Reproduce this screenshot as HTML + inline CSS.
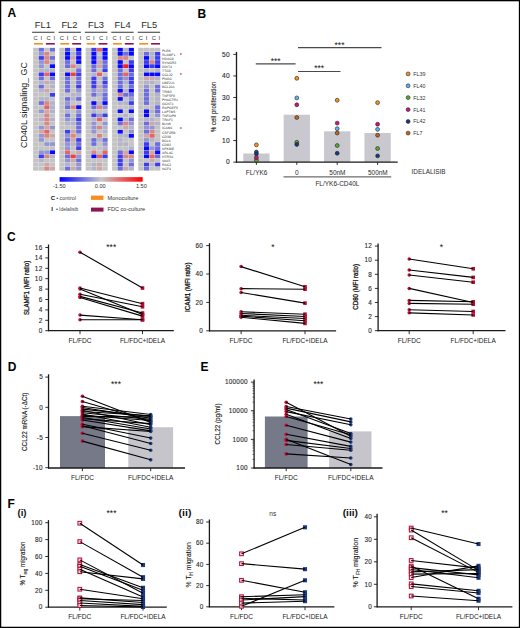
<!DOCTYPE html>
<html><head><meta charset="utf-8"><style>
html,body{margin:0;padding:0;background:#fff;}
body{width:520px;height:628px;overflow:hidden;}
svg{display:block;}
text{font-family:"Liberation Sans",sans-serif;}
.t{stroke:currentColor;}
</style></head><body>
<svg width="520" height="628" viewBox="0 0 520 628">
<rect x="0" y="0" width="520" height="628" fill="#fff"/>
<text x="7.40" y="17.30" font-size="12.0" text-anchor="start" fill="#000" font-weight="bold">A</text>
<rect x="33.00" y="47.70" width="22.20" height="123.00" fill="#e8e8e8"/>
<rect x="33.20" y="47.90" width="5.15" height="3.70" fill="#c4c4c4"/>
<rect x="38.75" y="47.90" width="5.15" height="3.70" fill="#6d6ddf"/>
<rect x="44.30" y="47.90" width="5.15" height="3.70" fill="#c4c4c4"/>
<rect x="49.85" y="47.90" width="5.15" height="3.70" fill="#6d6ddf"/>
<rect x="33.20" y="52.00" width="5.15" height="3.70" fill="#c4c4c4"/>
<rect x="38.75" y="52.00" width="5.15" height="3.70" fill="#9494d3"/>
<rect x="44.30" y="52.00" width="5.15" height="3.70" fill="#d88787"/>
<rect x="49.85" y="52.00" width="5.15" height="3.70" fill="#c4c4c4"/>
<rect x="33.20" y="56.10" width="5.15" height="3.70" fill="#c4c4c4"/>
<rect x="38.75" y="56.10" width="5.15" height="3.70" fill="#3d3dee"/>
<rect x="44.30" y="56.10" width="5.15" height="3.70" fill="#d88787"/>
<rect x="49.85" y="56.10" width="5.15" height="3.70" fill="#6d6ddf"/>
<rect x="33.20" y="60.20" width="5.15" height="3.70" fill="#c4c4c4"/>
<rect x="38.75" y="60.20" width="5.15" height="3.70" fill="#9494d3"/>
<rect x="44.30" y="60.20" width="5.15" height="3.70" fill="#d88787"/>
<rect x="49.85" y="60.20" width="5.15" height="3.70" fill="#b3b3c9"/>
<rect x="33.20" y="64.30" width="5.15" height="3.70" fill="#c4c4c4"/>
<rect x="38.75" y="64.30" width="5.15" height="3.70" fill="#9494d3"/>
<rect x="44.30" y="64.30" width="5.15" height="3.70" fill="#c4c4c4"/>
<rect x="49.85" y="64.30" width="5.15" height="3.70" fill="#0808ff"/>
<rect x="33.20" y="68.40" width="5.15" height="3.70" fill="#c4c4c4"/>
<rect x="38.75" y="68.40" width="5.15" height="3.70" fill="#b3b3c9"/>
<rect x="44.30" y="68.40" width="5.15" height="3.70" fill="#b3b3c9"/>
<rect x="49.85" y="68.40" width="5.15" height="3.70" fill="#b3b3c9"/>
<rect x="33.20" y="72.50" width="5.15" height="3.70" fill="#c4c4c4"/>
<rect x="38.75" y="72.50" width="5.15" height="3.70" fill="#3d3dee"/>
<rect x="44.30" y="72.50" width="5.15" height="3.70" fill="#e36565"/>
<rect x="49.85" y="72.50" width="5.15" height="3.70" fill="#0808ff"/>
<rect x="33.20" y="76.60" width="5.15" height="3.70" fill="#c4c4c4"/>
<rect x="38.75" y="76.60" width="5.15" height="3.70" fill="#6d6ddf"/>
<rect x="44.30" y="76.60" width="5.15" height="3.70" fill="#c4c4c4"/>
<rect x="49.85" y="76.60" width="5.15" height="3.70" fill="#6d6ddf"/>
<rect x="33.20" y="80.70" width="5.15" height="3.70" fill="#c4c4c4"/>
<rect x="38.75" y="80.70" width="5.15" height="3.70" fill="#b3b3c9"/>
<rect x="44.30" y="80.70" width="5.15" height="3.70" fill="#cda8a8"/>
<rect x="49.85" y="80.70" width="5.15" height="3.70" fill="#b3b3c9"/>
<rect x="33.20" y="84.80" width="5.15" height="3.70" fill="#c4c4c4"/>
<rect x="38.75" y="84.80" width="5.15" height="3.70" fill="#6d6ddf"/>
<rect x="44.30" y="84.80" width="5.15" height="3.70" fill="#c4c4c4"/>
<rect x="49.85" y="84.80" width="5.15" height="3.70" fill="#b3b3c9"/>
<rect x="33.20" y="88.90" width="5.15" height="3.70" fill="#c4c4c4"/>
<rect x="38.75" y="88.90" width="5.15" height="3.70" fill="#b3b3c9"/>
<rect x="44.30" y="88.90" width="5.15" height="3.70" fill="#cda8a8"/>
<rect x="49.85" y="88.90" width="5.15" height="3.70" fill="#c4c4c4"/>
<rect x="33.20" y="93.00" width="5.15" height="3.70" fill="#c4c4c4"/>
<rect x="38.75" y="93.00" width="5.15" height="3.70" fill="#c4c4c4"/>
<rect x="44.30" y="93.00" width="5.15" height="3.70" fill="#c4c4c4"/>
<rect x="49.85" y="93.00" width="5.15" height="3.70" fill="#3d3dee"/>
<rect x="33.20" y="97.10" width="5.15" height="3.70" fill="#c4c4c4"/>
<rect x="38.75" y="97.10" width="5.15" height="3.70" fill="#b3b3c9"/>
<rect x="44.30" y="97.10" width="5.15" height="3.70" fill="#b3b3c9"/>
<rect x="49.85" y="97.10" width="5.15" height="3.70" fill="#c4c4c4"/>
<rect x="33.20" y="101.20" width="5.15" height="3.70" fill="#c4c4c4"/>
<rect x="38.75" y="101.20" width="5.15" height="3.70" fill="#6d6ddf"/>
<rect x="44.30" y="101.20" width="5.15" height="3.70" fill="#d88787"/>
<rect x="49.85" y="101.20" width="5.15" height="3.70" fill="#b3b3c9"/>
<rect x="33.20" y="105.30" width="5.15" height="3.70" fill="#c4c4c4"/>
<rect x="38.75" y="105.30" width="5.15" height="3.70" fill="#c4c4c4"/>
<rect x="44.30" y="105.30" width="5.15" height="3.70" fill="#e36565"/>
<rect x="49.85" y="105.30" width="5.15" height="3.70" fill="#b3b3c9"/>
<rect x="33.20" y="109.40" width="5.15" height="3.70" fill="#c4c4c4"/>
<rect x="38.75" y="109.40" width="5.15" height="3.70" fill="#9494d3"/>
<rect x="44.30" y="109.40" width="5.15" height="3.70" fill="#cda8a8"/>
<rect x="49.85" y="109.40" width="5.15" height="3.70" fill="#b3b3c9"/>
<rect x="33.20" y="113.50" width="5.15" height="3.70" fill="#c4c4c4"/>
<rect x="38.75" y="113.50" width="5.15" height="3.70" fill="#c4c4c4"/>
<rect x="44.30" y="113.50" width="5.15" height="3.70" fill="#d88787"/>
<rect x="49.85" y="113.50" width="5.15" height="3.70" fill="#c4c4c4"/>
<rect x="33.20" y="117.60" width="5.15" height="3.70" fill="#c4c4c4"/>
<rect x="38.75" y="117.60" width="5.15" height="3.70" fill="#b3b3c9"/>
<rect x="44.30" y="117.60" width="5.15" height="3.70" fill="#d88787"/>
<rect x="49.85" y="117.60" width="5.15" height="3.70" fill="#b3b3c9"/>
<rect x="33.20" y="121.70" width="5.15" height="3.70" fill="#c4c4c4"/>
<rect x="38.75" y="121.70" width="5.15" height="3.70" fill="#c4c4c4"/>
<rect x="44.30" y="121.70" width="5.15" height="3.70" fill="#d88787"/>
<rect x="49.85" y="121.70" width="5.15" height="3.70" fill="#c4c4c4"/>
<rect x="33.20" y="125.80" width="5.15" height="3.70" fill="#c4c4c4"/>
<rect x="38.75" y="125.80" width="5.15" height="3.70" fill="#9494d3"/>
<rect x="44.30" y="125.80" width="5.15" height="3.70" fill="#cda8a8"/>
<rect x="49.85" y="125.80" width="5.15" height="3.70" fill="#9494d3"/>
<rect x="33.20" y="129.90" width="5.15" height="3.70" fill="#c4c4c4"/>
<rect x="38.75" y="129.90" width="5.15" height="3.70" fill="#cda8a8"/>
<rect x="44.30" y="129.90" width="5.15" height="3.70" fill="#e36565"/>
<rect x="49.85" y="129.90" width="5.15" height="3.70" fill="#c4c4c4"/>
<rect x="33.20" y="134.00" width="5.15" height="3.70" fill="#c4c4c4"/>
<rect x="38.75" y="134.00" width="5.15" height="3.70" fill="#9494d3"/>
<rect x="44.30" y="134.00" width="5.15" height="3.70" fill="#d88787"/>
<rect x="49.85" y="134.00" width="5.15" height="3.70" fill="#cda8a8"/>
<rect x="33.20" y="138.10" width="5.15" height="3.70" fill="#c4c4c4"/>
<rect x="38.75" y="138.10" width="5.15" height="3.70" fill="#9494d3"/>
<rect x="44.30" y="138.10" width="5.15" height="3.70" fill="#c4c4c4"/>
<rect x="49.85" y="138.10" width="5.15" height="3.70" fill="#c4c4c4"/>
<rect x="33.20" y="142.20" width="5.15" height="3.70" fill="#c4c4c4"/>
<rect x="38.75" y="142.20" width="5.15" height="3.70" fill="#c4c4c4"/>
<rect x="44.30" y="142.20" width="5.15" height="3.70" fill="#9494d3"/>
<rect x="49.85" y="142.20" width="5.15" height="3.70" fill="#9494d3"/>
<rect x="33.20" y="146.30" width="5.15" height="3.70" fill="#c4c4c4"/>
<rect x="38.75" y="146.30" width="5.15" height="3.70" fill="#c4c4c4"/>
<rect x="44.30" y="146.30" width="5.15" height="3.70" fill="#c4c4c4"/>
<rect x="49.85" y="146.30" width="5.15" height="3.70" fill="#c4c4c4"/>
<rect x="33.20" y="150.40" width="5.15" height="3.70" fill="#c4c4c4"/>
<rect x="38.75" y="150.40" width="5.15" height="3.70" fill="#9494d3"/>
<rect x="44.30" y="150.40" width="5.15" height="3.70" fill="#9494d3"/>
<rect x="49.85" y="150.40" width="5.15" height="3.70" fill="#0808ff"/>
<rect x="33.20" y="154.50" width="5.15" height="3.70" fill="#c4c4c4"/>
<rect x="38.75" y="154.50" width="5.15" height="3.70" fill="#3d3dee"/>
<rect x="44.30" y="154.50" width="5.15" height="3.70" fill="#d88787"/>
<rect x="49.85" y="154.50" width="5.15" height="3.70" fill="#b3b3c9"/>
<rect x="33.20" y="158.60" width="5.15" height="3.70" fill="#c4c4c4"/>
<rect x="38.75" y="158.60" width="5.15" height="3.70" fill="#b3b3c9"/>
<rect x="44.30" y="158.60" width="5.15" height="3.70" fill="#c4c4c4"/>
<rect x="49.85" y="158.60" width="5.15" height="3.70" fill="#c4c4c4"/>
<rect x="33.20" y="162.70" width="5.15" height="3.70" fill="#c4c4c4"/>
<rect x="38.75" y="162.70" width="5.15" height="3.70" fill="#c4c4c4"/>
<rect x="44.30" y="162.70" width="5.15" height="3.70" fill="#cda8a8"/>
<rect x="49.85" y="162.70" width="5.15" height="3.70" fill="#c4c4c4"/>
<rect x="33.20" y="166.80" width="5.15" height="3.70" fill="#c4c4c4"/>
<rect x="38.75" y="166.80" width="5.15" height="3.70" fill="#c4c4c4"/>
<rect x="44.30" y="166.80" width="5.15" height="3.70" fill="#d88787"/>
<rect x="49.85" y="166.80" width="5.15" height="3.70" fill="#cda8a8"/>
<text x="42.80" y="28.20" font-size="9.3" text-anchor="middle" fill="#2a2a2a">FL1</text>
<line x1="32.10" y1="32.30" x2="54.50" y2="32.30" stroke="#555" stroke-width="1.2"/>
<text x="35.60" y="39.80" font-size="5.8" text-anchor="middle" fill="#333">C</text>
<text x="41.30" y="39.80" font-size="5.8" text-anchor="middle" fill="#333">I</text>
<text x="48.60" y="39.80" font-size="5.8" text-anchor="middle" fill="#333">C</text>
<text x="54.20" y="39.80" font-size="5.8" text-anchor="middle" fill="#333">I</text>
<rect x="34.00" y="43.00" width="8.90" height="1.60" fill="#f5901e"/>
<rect x="45.90" y="43.00" width="8.90" height="1.60" fill="#8c1450"/>
<rect x="59.30" y="47.70" width="22.20" height="123.00" fill="#e8e8e8"/>
<rect x="59.50" y="47.90" width="5.15" height="3.70" fill="#c4c4c4"/>
<rect x="65.05" y="47.90" width="5.15" height="3.70" fill="#3d3dee"/>
<rect x="70.60" y="47.90" width="5.15" height="3.70" fill="#c4c4c4"/>
<rect x="76.15" y="47.90" width="5.15" height="3.70" fill="#0808ff"/>
<rect x="59.50" y="52.00" width="5.15" height="3.70" fill="#c4c4c4"/>
<rect x="65.05" y="52.00" width="5.15" height="3.70" fill="#0808ff"/>
<rect x="70.60" y="52.00" width="5.15" height="3.70" fill="#b3b3c9"/>
<rect x="76.15" y="52.00" width="5.15" height="3.70" fill="#3d3dee"/>
<rect x="59.50" y="56.10" width="5.15" height="3.70" fill="#c4c4c4"/>
<rect x="65.05" y="56.10" width="5.15" height="3.70" fill="#0808ff"/>
<rect x="70.60" y="56.10" width="5.15" height="3.70" fill="#cda8a8"/>
<rect x="76.15" y="56.10" width="5.15" height="3.70" fill="#0808ff"/>
<rect x="59.50" y="60.20" width="5.15" height="3.70" fill="#c4c4c4"/>
<rect x="65.05" y="60.20" width="5.15" height="3.70" fill="#6d6ddf"/>
<rect x="70.60" y="60.20" width="5.15" height="3.70" fill="#c4c4c4"/>
<rect x="76.15" y="60.20" width="5.15" height="3.70" fill="#0808ff"/>
<rect x="59.50" y="64.30" width="5.15" height="3.70" fill="#c4c4c4"/>
<rect x="65.05" y="64.30" width="5.15" height="3.70" fill="#6d6ddf"/>
<rect x="70.60" y="64.30" width="5.15" height="3.70" fill="#d88787"/>
<rect x="76.15" y="64.30" width="5.15" height="3.70" fill="#b3b3c9"/>
<rect x="59.50" y="68.40" width="5.15" height="3.70" fill="#c4c4c4"/>
<rect x="65.05" y="68.40" width="5.15" height="3.70" fill="#c4c4c4"/>
<rect x="70.60" y="68.40" width="5.15" height="3.70" fill="#c4c4c4"/>
<rect x="76.15" y="68.40" width="5.15" height="3.70" fill="#6d6ddf"/>
<rect x="59.50" y="72.50" width="5.15" height="3.70" fill="#c4c4c4"/>
<rect x="65.05" y="72.50" width="5.15" height="3.70" fill="#0808ff"/>
<rect x="70.60" y="72.50" width="5.15" height="3.70" fill="#ee4242"/>
<rect x="76.15" y="72.50" width="5.15" height="3.70" fill="#3d3dee"/>
<rect x="59.50" y="76.60" width="5.15" height="3.70" fill="#c4c4c4"/>
<rect x="65.05" y="76.60" width="5.15" height="3.70" fill="#6d6ddf"/>
<rect x="70.60" y="76.60" width="5.15" height="3.70" fill="#c4c4c4"/>
<rect x="76.15" y="76.60" width="5.15" height="3.70" fill="#6d6ddf"/>
<rect x="59.50" y="80.70" width="5.15" height="3.70" fill="#c4c4c4"/>
<rect x="65.05" y="80.70" width="5.15" height="3.70" fill="#6d6ddf"/>
<rect x="70.60" y="80.70" width="5.15" height="3.70" fill="#c4c4c4"/>
<rect x="76.15" y="80.70" width="5.15" height="3.70" fill="#6d6ddf"/>
<rect x="59.50" y="84.80" width="5.15" height="3.70" fill="#c4c4c4"/>
<rect x="65.05" y="84.80" width="5.15" height="3.70" fill="#6d6ddf"/>
<rect x="70.60" y="84.80" width="5.15" height="3.70" fill="#c4c4c4"/>
<rect x="76.15" y="84.80" width="5.15" height="3.70" fill="#3d3dee"/>
<rect x="59.50" y="88.90" width="5.15" height="3.70" fill="#c4c4c4"/>
<rect x="65.05" y="88.90" width="5.15" height="3.70" fill="#6d6ddf"/>
<rect x="70.60" y="88.90" width="5.15" height="3.70" fill="#c4c4c4"/>
<rect x="76.15" y="88.90" width="5.15" height="3.70" fill="#9494d3"/>
<rect x="59.50" y="93.00" width="5.15" height="3.70" fill="#c4c4c4"/>
<rect x="65.05" y="93.00" width="5.15" height="3.70" fill="#c4c4c4"/>
<rect x="70.60" y="93.00" width="5.15" height="3.70" fill="#b3b3c9"/>
<rect x="76.15" y="93.00" width="5.15" height="3.70" fill="#b3b3c9"/>
<rect x="59.50" y="97.10" width="5.15" height="3.70" fill="#c4c4c4"/>
<rect x="65.05" y="97.10" width="5.15" height="3.70" fill="#6d6ddf"/>
<rect x="70.60" y="97.10" width="5.15" height="3.70" fill="#b3b3c9"/>
<rect x="76.15" y="97.10" width="5.15" height="3.70" fill="#6d6ddf"/>
<rect x="59.50" y="101.20" width="5.15" height="3.70" fill="#c4c4c4"/>
<rect x="65.05" y="101.20" width="5.15" height="3.70" fill="#9494d3"/>
<rect x="70.60" y="101.20" width="5.15" height="3.70" fill="#c4c4c4"/>
<rect x="76.15" y="101.20" width="5.15" height="3.70" fill="#c4c4c4"/>
<rect x="59.50" y="105.30" width="5.15" height="3.70" fill="#c4c4c4"/>
<rect x="65.05" y="105.30" width="5.15" height="3.70" fill="#6d6ddf"/>
<rect x="70.60" y="105.30" width="5.15" height="3.70" fill="#d88787"/>
<rect x="76.15" y="105.30" width="5.15" height="3.70" fill="#0808ff"/>
<rect x="59.50" y="109.40" width="5.15" height="3.70" fill="#c4c4c4"/>
<rect x="65.05" y="109.40" width="5.15" height="3.70" fill="#b3b3c9"/>
<rect x="70.60" y="109.40" width="5.15" height="3.70" fill="#c4c4c4"/>
<rect x="76.15" y="109.40" width="5.15" height="3.70" fill="#9494d3"/>
<rect x="59.50" y="113.50" width="5.15" height="3.70" fill="#c4c4c4"/>
<rect x="65.05" y="113.50" width="5.15" height="3.70" fill="#6d6ddf"/>
<rect x="70.60" y="113.50" width="5.15" height="3.70" fill="#c4c4c4"/>
<rect x="76.15" y="113.50" width="5.15" height="3.70" fill="#6d6ddf"/>
<rect x="59.50" y="117.60" width="5.15" height="3.70" fill="#c4c4c4"/>
<rect x="65.05" y="117.60" width="5.15" height="3.70" fill="#9494d3"/>
<rect x="70.60" y="117.60" width="5.15" height="3.70" fill="#b3b3c9"/>
<rect x="76.15" y="117.60" width="5.15" height="3.70" fill="#3d3dee"/>
<rect x="59.50" y="121.70" width="5.15" height="3.70" fill="#c4c4c4"/>
<rect x="65.05" y="121.70" width="5.15" height="3.70" fill="#b3b3c9"/>
<rect x="70.60" y="121.70" width="5.15" height="3.70" fill="#b3b3c9"/>
<rect x="76.15" y="121.70" width="5.15" height="3.70" fill="#6d6ddf"/>
<rect x="59.50" y="125.80" width="5.15" height="3.70" fill="#c4c4c4"/>
<rect x="65.05" y="125.80" width="5.15" height="3.70" fill="#c4c4c4"/>
<rect x="70.60" y="125.80" width="5.15" height="3.70" fill="#c4c4c4"/>
<rect x="76.15" y="125.80" width="5.15" height="3.70" fill="#6d6ddf"/>
<rect x="59.50" y="129.90" width="5.15" height="3.70" fill="#c4c4c4"/>
<rect x="65.05" y="129.90" width="5.15" height="3.70" fill="#3d3dee"/>
<rect x="70.60" y="129.90" width="5.15" height="3.70" fill="#cda8a8"/>
<rect x="76.15" y="129.90" width="5.15" height="3.70" fill="#6d6ddf"/>
<rect x="59.50" y="134.00" width="5.15" height="3.70" fill="#c4c4c4"/>
<rect x="65.05" y="134.00" width="5.15" height="3.70" fill="#9494d3"/>
<rect x="70.60" y="134.00" width="5.15" height="3.70" fill="#d88787"/>
<rect x="76.15" y="134.00" width="5.15" height="3.70" fill="#b3b3c9"/>
<rect x="59.50" y="138.10" width="5.15" height="3.70" fill="#c4c4c4"/>
<rect x="65.05" y="138.10" width="5.15" height="3.70" fill="#6d6ddf"/>
<rect x="70.60" y="138.10" width="5.15" height="3.70" fill="#cda8a8"/>
<rect x="76.15" y="138.10" width="5.15" height="3.70" fill="#3d3dee"/>
<rect x="59.50" y="142.20" width="5.15" height="3.70" fill="#c4c4c4"/>
<rect x="65.05" y="142.20" width="5.15" height="3.70" fill="#9494d3"/>
<rect x="70.60" y="142.20" width="5.15" height="3.70" fill="#b3b3c9"/>
<rect x="76.15" y="142.20" width="5.15" height="3.70" fill="#6d6ddf"/>
<rect x="59.50" y="146.30" width="5.15" height="3.70" fill="#c4c4c4"/>
<rect x="65.05" y="146.30" width="5.15" height="3.70" fill="#9494d3"/>
<rect x="70.60" y="146.30" width="5.15" height="3.70" fill="#c4c4c4"/>
<rect x="76.15" y="146.30" width="5.15" height="3.70" fill="#3d3dee"/>
<rect x="59.50" y="150.40" width="5.15" height="3.70" fill="#c4c4c4"/>
<rect x="65.05" y="150.40" width="5.15" height="3.70" fill="#e36565"/>
<rect x="70.60" y="150.40" width="5.15" height="3.70" fill="#c4c4c4"/>
<rect x="76.15" y="150.40" width="5.15" height="3.70" fill="#cda8a8"/>
<rect x="59.50" y="154.50" width="5.15" height="3.70" fill="#c4c4c4"/>
<rect x="65.05" y="154.50" width="5.15" height="3.70" fill="#6d6ddf"/>
<rect x="70.60" y="154.50" width="5.15" height="3.70" fill="#ee4242"/>
<rect x="76.15" y="154.50" width="5.15" height="3.70" fill="#9494d3"/>
<rect x="59.50" y="158.60" width="5.15" height="3.70" fill="#c4c4c4"/>
<rect x="65.05" y="158.60" width="5.15" height="3.70" fill="#9494d3"/>
<rect x="70.60" y="158.60" width="5.15" height="3.70" fill="#cda8a8"/>
<rect x="76.15" y="158.60" width="5.15" height="3.70" fill="#6d6ddf"/>
<rect x="59.50" y="162.70" width="5.15" height="3.70" fill="#c4c4c4"/>
<rect x="65.05" y="162.70" width="5.15" height="3.70" fill="#b3b3c9"/>
<rect x="70.60" y="162.70" width="5.15" height="3.70" fill="#c4c4c4"/>
<rect x="76.15" y="162.70" width="5.15" height="3.70" fill="#9494d3"/>
<rect x="59.50" y="166.80" width="5.15" height="3.70" fill="#c4c4c4"/>
<rect x="65.05" y="166.80" width="5.15" height="3.70" fill="#6d6ddf"/>
<rect x="70.60" y="166.80" width="5.15" height="3.70" fill="#cda8a8"/>
<rect x="76.15" y="166.80" width="5.15" height="3.70" fill="#9494d3"/>
<text x="69.40" y="28.20" font-size="9.3" text-anchor="middle" fill="#2a2a2a">FL2</text>
<line x1="58.50" y1="32.30" x2="80.90" y2="32.30" stroke="#555" stroke-width="1.2"/>
<text x="61.90" y="39.80" font-size="5.8" text-anchor="middle" fill="#333">C</text>
<text x="67.60" y="39.80" font-size="5.8" text-anchor="middle" fill="#333">I</text>
<text x="74.90" y="39.80" font-size="5.8" text-anchor="middle" fill="#333">C</text>
<text x="80.50" y="39.80" font-size="5.8" text-anchor="middle" fill="#333">I</text>
<rect x="60.30" y="43.00" width="8.90" height="1.60" fill="#f5901e"/>
<rect x="72.20" y="43.00" width="8.90" height="1.60" fill="#8c1450"/>
<rect x="85.60" y="47.70" width="22.20" height="123.00" fill="#e8e8e8"/>
<rect x="85.80" y="47.90" width="5.15" height="3.70" fill="#c4c4c4"/>
<rect x="91.35" y="47.90" width="5.15" height="3.70" fill="#3d3dee"/>
<rect x="96.90" y="47.90" width="5.15" height="3.70" fill="#e36565"/>
<rect x="102.45" y="47.90" width="5.15" height="3.70" fill="#0808ff"/>
<rect x="85.80" y="52.00" width="5.15" height="3.70" fill="#c4c4c4"/>
<rect x="91.35" y="52.00" width="5.15" height="3.70" fill="#0808ff"/>
<rect x="96.90" y="52.00" width="5.15" height="3.70" fill="#c4c4c4"/>
<rect x="102.45" y="52.00" width="5.15" height="3.70" fill="#0808ff"/>
<rect x="85.80" y="56.10" width="5.15" height="3.70" fill="#c4c4c4"/>
<rect x="91.35" y="56.10" width="5.15" height="3.70" fill="#0808ff"/>
<rect x="96.90" y="56.10" width="5.15" height="3.70" fill="#b3b3c9"/>
<rect x="102.45" y="56.10" width="5.15" height="3.70" fill="#0808ff"/>
<rect x="85.80" y="60.20" width="5.15" height="3.70" fill="#c4c4c4"/>
<rect x="91.35" y="60.20" width="5.15" height="3.70" fill="#0808ff"/>
<rect x="96.90" y="60.20" width="5.15" height="3.70" fill="#cda8a8"/>
<rect x="102.45" y="60.20" width="5.15" height="3.70" fill="#6d6ddf"/>
<rect x="85.80" y="64.30" width="5.15" height="3.70" fill="#c4c4c4"/>
<rect x="91.35" y="64.30" width="5.15" height="3.70" fill="#6d6ddf"/>
<rect x="96.90" y="64.30" width="5.15" height="3.70" fill="#cda8a8"/>
<rect x="102.45" y="64.30" width="5.15" height="3.70" fill="#6d6ddf"/>
<rect x="85.80" y="68.40" width="5.15" height="3.70" fill="#c4c4c4"/>
<rect x="91.35" y="68.40" width="5.15" height="3.70" fill="#6d6ddf"/>
<rect x="96.90" y="68.40" width="5.15" height="3.70" fill="#c4c4c4"/>
<rect x="102.45" y="68.40" width="5.15" height="3.70" fill="#3d3dee"/>
<rect x="85.80" y="72.50" width="5.15" height="3.70" fill="#c4c4c4"/>
<rect x="91.35" y="72.50" width="5.15" height="3.70" fill="#b3b3c9"/>
<rect x="96.90" y="72.50" width="5.15" height="3.70" fill="#e36565"/>
<rect x="102.45" y="72.50" width="5.15" height="3.70" fill="#c4c4c4"/>
<rect x="85.80" y="76.60" width="5.15" height="3.70" fill="#c4c4c4"/>
<rect x="91.35" y="76.60" width="5.15" height="3.70" fill="#3d3dee"/>
<rect x="96.90" y="76.60" width="5.15" height="3.70" fill="#c4c4c4"/>
<rect x="102.45" y="76.60" width="5.15" height="3.70" fill="#6d6ddf"/>
<rect x="85.80" y="80.70" width="5.15" height="3.70" fill="#c4c4c4"/>
<rect x="91.35" y="80.70" width="5.15" height="3.70" fill="#3d3dee"/>
<rect x="96.90" y="80.70" width="5.15" height="3.70" fill="#c4c4c4"/>
<rect x="102.45" y="80.70" width="5.15" height="3.70" fill="#3d3dee"/>
<rect x="85.80" y="84.80" width="5.15" height="3.70" fill="#c4c4c4"/>
<rect x="91.35" y="84.80" width="5.15" height="3.70" fill="#3d3dee"/>
<rect x="96.90" y="84.80" width="5.15" height="3.70" fill="#cda8a8"/>
<rect x="102.45" y="84.80" width="5.15" height="3.70" fill="#6d6ddf"/>
<rect x="85.80" y="88.90" width="5.15" height="3.70" fill="#c4c4c4"/>
<rect x="91.35" y="88.90" width="5.15" height="3.70" fill="#9494d3"/>
<rect x="96.90" y="88.90" width="5.15" height="3.70" fill="#b3b3c9"/>
<rect x="102.45" y="88.90" width="5.15" height="3.70" fill="#9494d3"/>
<rect x="85.80" y="93.00" width="5.15" height="3.70" fill="#c4c4c4"/>
<rect x="91.35" y="93.00" width="5.15" height="3.70" fill="#6d6ddf"/>
<rect x="96.90" y="93.00" width="5.15" height="3.70" fill="#b3b3c9"/>
<rect x="102.45" y="93.00" width="5.15" height="3.70" fill="#6d6ddf"/>
<rect x="85.80" y="97.10" width="5.15" height="3.70" fill="#c4c4c4"/>
<rect x="91.35" y="97.10" width="5.15" height="3.70" fill="#c4c4c4"/>
<rect x="96.90" y="97.10" width="5.15" height="3.70" fill="#c4c4c4"/>
<rect x="102.45" y="97.10" width="5.15" height="3.70" fill="#6d6ddf"/>
<rect x="85.80" y="101.20" width="5.15" height="3.70" fill="#c4c4c4"/>
<rect x="91.35" y="101.20" width="5.15" height="3.70" fill="#0808ff"/>
<rect x="96.90" y="101.20" width="5.15" height="3.70" fill="#b3b3c9"/>
<rect x="102.45" y="101.20" width="5.15" height="3.70" fill="#0808ff"/>
<rect x="85.80" y="105.30" width="5.15" height="3.70" fill="#c4c4c4"/>
<rect x="91.35" y="105.30" width="5.15" height="3.70" fill="#6d6ddf"/>
<rect x="96.90" y="105.30" width="5.15" height="3.70" fill="#d88787"/>
<rect x="102.45" y="105.30" width="5.15" height="3.70" fill="#9494d3"/>
<rect x="85.80" y="109.40" width="5.15" height="3.70" fill="#c4c4c4"/>
<rect x="91.35" y="109.40" width="5.15" height="3.70" fill="#b3b3c9"/>
<rect x="96.90" y="109.40" width="5.15" height="3.70" fill="#c4c4c4"/>
<rect x="102.45" y="109.40" width="5.15" height="3.70" fill="#c4c4c4"/>
<rect x="85.80" y="113.50" width="5.15" height="3.70" fill="#c4c4c4"/>
<rect x="91.35" y="113.50" width="5.15" height="3.70" fill="#3d3dee"/>
<rect x="96.90" y="113.50" width="5.15" height="3.70" fill="#9494d3"/>
<rect x="102.45" y="113.50" width="5.15" height="3.70" fill="#3d3dee"/>
<rect x="85.80" y="117.60" width="5.15" height="3.70" fill="#c4c4c4"/>
<rect x="91.35" y="117.60" width="5.15" height="3.70" fill="#b3b3c9"/>
<rect x="96.90" y="117.60" width="5.15" height="3.70" fill="#e36565"/>
<rect x="102.45" y="117.60" width="5.15" height="3.70" fill="#c4c4c4"/>
<rect x="85.80" y="121.70" width="5.15" height="3.70" fill="#c4c4c4"/>
<rect x="91.35" y="121.70" width="5.15" height="3.70" fill="#9494d3"/>
<rect x="96.90" y="121.70" width="5.15" height="3.70" fill="#c4c4c4"/>
<rect x="102.45" y="121.70" width="5.15" height="3.70" fill="#9494d3"/>
<rect x="85.80" y="125.80" width="5.15" height="3.70" fill="#c4c4c4"/>
<rect x="91.35" y="125.80" width="5.15" height="3.70" fill="#9494d3"/>
<rect x="96.90" y="125.80" width="5.15" height="3.70" fill="#d88787"/>
<rect x="102.45" y="125.80" width="5.15" height="3.70" fill="#b3b3c9"/>
<rect x="85.80" y="129.90" width="5.15" height="3.70" fill="#c4c4c4"/>
<rect x="91.35" y="129.90" width="5.15" height="3.70" fill="#9494d3"/>
<rect x="96.90" y="129.90" width="5.15" height="3.70" fill="#c4c4c4"/>
<rect x="102.45" y="129.90" width="5.15" height="3.70" fill="#b3b3c9"/>
<rect x="85.80" y="134.00" width="5.15" height="3.70" fill="#c4c4c4"/>
<rect x="91.35" y="134.00" width="5.15" height="3.70" fill="#c4c4c4"/>
<rect x="96.90" y="134.00" width="5.15" height="3.70" fill="#d88787"/>
<rect x="102.45" y="134.00" width="5.15" height="3.70" fill="#c4c4c4"/>
<rect x="85.80" y="138.10" width="5.15" height="3.70" fill="#c4c4c4"/>
<rect x="91.35" y="138.10" width="5.15" height="3.70" fill="#6d6ddf"/>
<rect x="96.90" y="138.10" width="5.15" height="3.70" fill="#b3b3c9"/>
<rect x="102.45" y="138.10" width="5.15" height="3.70" fill="#6d6ddf"/>
<rect x="85.80" y="142.20" width="5.15" height="3.70" fill="#c4c4c4"/>
<rect x="91.35" y="142.20" width="5.15" height="3.70" fill="#6d6ddf"/>
<rect x="96.90" y="142.20" width="5.15" height="3.70" fill="#c4c4c4"/>
<rect x="102.45" y="142.20" width="5.15" height="3.70" fill="#9494d3"/>
<rect x="85.80" y="146.30" width="5.15" height="3.70" fill="#c4c4c4"/>
<rect x="91.35" y="146.30" width="5.15" height="3.70" fill="#c4c4c4"/>
<rect x="96.90" y="146.30" width="5.15" height="3.70" fill="#c4c4c4"/>
<rect x="102.45" y="146.30" width="5.15" height="3.70" fill="#b3b3c9"/>
<rect x="85.80" y="150.40" width="5.15" height="3.70" fill="#c4c4c4"/>
<rect x="91.35" y="150.40" width="5.15" height="3.70" fill="#d88787"/>
<rect x="96.90" y="150.40" width="5.15" height="3.70" fill="#c4c4c4"/>
<rect x="102.45" y="150.40" width="5.15" height="3.70" fill="#e36565"/>
<rect x="85.80" y="154.50" width="5.15" height="3.70" fill="#c4c4c4"/>
<rect x="91.35" y="154.50" width="5.15" height="3.70" fill="#0808ff"/>
<rect x="96.90" y="154.50" width="5.15" height="3.70" fill="#e36565"/>
<rect x="102.45" y="154.50" width="5.15" height="3.70" fill="#3d3dee"/>
<rect x="85.80" y="158.60" width="5.15" height="3.70" fill="#c4c4c4"/>
<rect x="91.35" y="158.60" width="5.15" height="3.70" fill="#c4c4c4"/>
<rect x="96.90" y="158.60" width="5.15" height="3.70" fill="#c4c4c4"/>
<rect x="102.45" y="158.60" width="5.15" height="3.70" fill="#c4c4c4"/>
<rect x="85.80" y="162.70" width="5.15" height="3.70" fill="#c4c4c4"/>
<rect x="91.35" y="162.70" width="5.15" height="3.70" fill="#b3b3c9"/>
<rect x="96.90" y="162.70" width="5.15" height="3.70" fill="#cda8a8"/>
<rect x="102.45" y="162.70" width="5.15" height="3.70" fill="#c4c4c4"/>
<rect x="85.80" y="166.80" width="5.15" height="3.70" fill="#c4c4c4"/>
<rect x="91.35" y="166.80" width="5.15" height="3.70" fill="#b3b3c9"/>
<rect x="96.90" y="166.80" width="5.15" height="3.70" fill="#cda8a8"/>
<rect x="102.45" y="166.80" width="5.15" height="3.70" fill="#c4c4c4"/>
<text x="96.00" y="28.20" font-size="9.3" text-anchor="middle" fill="#2a2a2a">FL3</text>
<line x1="84.90" y1="32.30" x2="107.30" y2="32.30" stroke="#555" stroke-width="1.2"/>
<text x="88.20" y="39.80" font-size="5.8" text-anchor="middle" fill="#333">C</text>
<text x="93.90" y="39.80" font-size="5.8" text-anchor="middle" fill="#333">I</text>
<text x="101.20" y="39.80" font-size="5.8" text-anchor="middle" fill="#333">C</text>
<text x="106.80" y="39.80" font-size="5.8" text-anchor="middle" fill="#333">I</text>
<rect x="86.60" y="43.00" width="8.90" height="1.60" fill="#f5901e"/>
<rect x="98.50" y="43.00" width="8.90" height="1.60" fill="#8c1450"/>
<rect x="111.90" y="47.70" width="22.20" height="123.00" fill="#e8e8e8"/>
<rect x="112.10" y="47.90" width="5.15" height="3.70" fill="#c4c4c4"/>
<rect x="117.65" y="47.90" width="5.15" height="3.70" fill="#0808ff"/>
<rect x="123.20" y="47.90" width="5.15" height="3.70" fill="#b3b3c9"/>
<rect x="128.75" y="47.90" width="5.15" height="3.70" fill="#0808ff"/>
<rect x="112.10" y="52.00" width="5.15" height="3.70" fill="#c4c4c4"/>
<rect x="117.65" y="52.00" width="5.15" height="3.70" fill="#0808ff"/>
<rect x="123.20" y="52.00" width="5.15" height="3.70" fill="#6d6ddf"/>
<rect x="128.75" y="52.00" width="5.15" height="3.70" fill="#0808ff"/>
<rect x="112.10" y="56.10" width="5.15" height="3.70" fill="#c4c4c4"/>
<rect x="117.65" y="56.10" width="5.15" height="3.70" fill="#d88787"/>
<rect x="123.20" y="56.10" width="5.15" height="3.70" fill="#d88787"/>
<rect x="128.75" y="56.10" width="5.15" height="3.70" fill="#c4c4c4"/>
<rect x="112.10" y="60.20" width="5.15" height="3.70" fill="#c4c4c4"/>
<rect x="117.65" y="60.20" width="5.15" height="3.70" fill="#0808ff"/>
<rect x="123.20" y="60.20" width="5.15" height="3.70" fill="#c4c4c4"/>
<rect x="128.75" y="60.20" width="5.15" height="3.70" fill="#3d3dee"/>
<rect x="112.10" y="64.30" width="5.15" height="3.70" fill="#c4c4c4"/>
<rect x="117.65" y="64.30" width="5.15" height="3.70" fill="#0808ff"/>
<rect x="123.20" y="64.30" width="5.15" height="3.70" fill="#fa1e1e"/>
<rect x="128.75" y="64.30" width="5.15" height="3.70" fill="#0808ff"/>
<rect x="112.10" y="68.40" width="5.15" height="3.70" fill="#c4c4c4"/>
<rect x="117.65" y="68.40" width="5.15" height="3.70" fill="#6d6ddf"/>
<rect x="123.20" y="68.40" width="5.15" height="3.70" fill="#c4c4c4"/>
<rect x="128.75" y="68.40" width="5.15" height="3.70" fill="#3d3dee"/>
<rect x="112.10" y="72.50" width="5.15" height="3.70" fill="#c4c4c4"/>
<rect x="117.65" y="72.50" width="5.15" height="3.70" fill="#6d6ddf"/>
<rect x="123.20" y="72.50" width="5.15" height="3.70" fill="#e36565"/>
<rect x="128.75" y="72.50" width="5.15" height="3.70" fill="#6d6ddf"/>
<rect x="112.10" y="76.60" width="5.15" height="3.70" fill="#c4c4c4"/>
<rect x="117.65" y="76.60" width="5.15" height="3.70" fill="#6d6ddf"/>
<rect x="123.20" y="76.60" width="5.15" height="3.70" fill="#9494d3"/>
<rect x="128.75" y="76.60" width="5.15" height="3.70" fill="#3d3dee"/>
<rect x="112.10" y="80.70" width="5.15" height="3.70" fill="#c4c4c4"/>
<rect x="117.65" y="80.70" width="5.15" height="3.70" fill="#6d6ddf"/>
<rect x="123.20" y="80.70" width="5.15" height="3.70" fill="#b3b3c9"/>
<rect x="128.75" y="80.70" width="5.15" height="3.70" fill="#3d3dee"/>
<rect x="112.10" y="84.80" width="5.15" height="3.70" fill="#c4c4c4"/>
<rect x="117.65" y="84.80" width="5.15" height="3.70" fill="#6d6ddf"/>
<rect x="123.20" y="84.80" width="5.15" height="3.70" fill="#c4c4c4"/>
<rect x="128.75" y="84.80" width="5.15" height="3.70" fill="#6d6ddf"/>
<rect x="112.10" y="88.90" width="5.15" height="3.70" fill="#c4c4c4"/>
<rect x="117.65" y="88.90" width="5.15" height="3.70" fill="#0808ff"/>
<rect x="123.20" y="88.90" width="5.15" height="3.70" fill="#b3b3c9"/>
<rect x="128.75" y="88.90" width="5.15" height="3.70" fill="#0808ff"/>
<rect x="112.10" y="93.00" width="5.15" height="3.70" fill="#c4c4c4"/>
<rect x="117.65" y="93.00" width="5.15" height="3.70" fill="#d88787"/>
<rect x="123.20" y="93.00" width="5.15" height="3.70" fill="#6d6ddf"/>
<rect x="128.75" y="93.00" width="5.15" height="3.70" fill="#6d6ddf"/>
<rect x="112.10" y="97.10" width="5.15" height="3.70" fill="#c4c4c4"/>
<rect x="117.65" y="97.10" width="5.15" height="3.70" fill="#0808ff"/>
<rect x="123.20" y="97.10" width="5.15" height="3.70" fill="#c4c4c4"/>
<rect x="128.75" y="97.10" width="5.15" height="3.70" fill="#9494d3"/>
<rect x="112.10" y="101.20" width="5.15" height="3.70" fill="#c4c4c4"/>
<rect x="117.65" y="101.20" width="5.15" height="3.70" fill="#b3b3c9"/>
<rect x="123.20" y="101.20" width="5.15" height="3.70" fill="#b3b3c9"/>
<rect x="128.75" y="101.20" width="5.15" height="3.70" fill="#3d3dee"/>
<rect x="112.10" y="105.30" width="5.15" height="3.70" fill="#c4c4c4"/>
<rect x="117.65" y="105.30" width="5.15" height="3.70" fill="#c4c4c4"/>
<rect x="123.20" y="105.30" width="5.15" height="3.70" fill="#c4c4c4"/>
<rect x="128.75" y="105.30" width="5.15" height="3.70" fill="#b3b3c9"/>
<rect x="112.10" y="109.40" width="5.15" height="3.70" fill="#c4c4c4"/>
<rect x="117.65" y="109.40" width="5.15" height="3.70" fill="#0808ff"/>
<rect x="123.20" y="109.40" width="5.15" height="3.70" fill="#c4c4c4"/>
<rect x="128.75" y="109.40" width="5.15" height="3.70" fill="#0808ff"/>
<rect x="112.10" y="113.50" width="5.15" height="3.70" fill="#c4c4c4"/>
<rect x="117.65" y="113.50" width="5.15" height="3.70" fill="#c4c4c4"/>
<rect x="123.20" y="113.50" width="5.15" height="3.70" fill="#b3b3c9"/>
<rect x="128.75" y="113.50" width="5.15" height="3.70" fill="#c4c4c4"/>
<rect x="112.10" y="117.60" width="5.15" height="3.70" fill="#c4c4c4"/>
<rect x="117.65" y="117.60" width="5.15" height="3.70" fill="#0808ff"/>
<rect x="123.20" y="117.60" width="5.15" height="3.70" fill="#b3b3c9"/>
<rect x="128.75" y="117.60" width="5.15" height="3.70" fill="#6d6ddf"/>
<rect x="112.10" y="121.70" width="5.15" height="3.70" fill="#c4c4c4"/>
<rect x="117.65" y="121.70" width="5.15" height="3.70" fill="#6d6ddf"/>
<rect x="123.20" y="121.70" width="5.15" height="3.70" fill="#d88787"/>
<rect x="128.75" y="121.70" width="5.15" height="3.70" fill="#9494d3"/>
<rect x="112.10" y="125.80" width="5.15" height="3.70" fill="#c4c4c4"/>
<rect x="117.65" y="125.80" width="5.15" height="3.70" fill="#c4c4c4"/>
<rect x="123.20" y="125.80" width="5.15" height="3.70" fill="#cda8a8"/>
<rect x="128.75" y="125.80" width="5.15" height="3.70" fill="#b3b3c9"/>
<rect x="112.10" y="129.90" width="5.15" height="3.70" fill="#c4c4c4"/>
<rect x="117.65" y="129.90" width="5.15" height="3.70" fill="#0808ff"/>
<rect x="123.20" y="129.90" width="5.15" height="3.70" fill="#c4c4c4"/>
<rect x="128.75" y="129.90" width="5.15" height="3.70" fill="#9494d3"/>
<rect x="112.10" y="134.00" width="5.15" height="3.70" fill="#c4c4c4"/>
<rect x="117.65" y="134.00" width="5.15" height="3.70" fill="#b3b3c9"/>
<rect x="123.20" y="134.00" width="5.15" height="3.70" fill="#b3b3c9"/>
<rect x="128.75" y="134.00" width="5.15" height="3.70" fill="#0808ff"/>
<rect x="112.10" y="138.10" width="5.15" height="3.70" fill="#c4c4c4"/>
<rect x="117.65" y="138.10" width="5.15" height="3.70" fill="#b3b3c9"/>
<rect x="123.20" y="138.10" width="5.15" height="3.70" fill="#c4c4c4"/>
<rect x="128.75" y="138.10" width="5.15" height="3.70" fill="#c4c4c4"/>
<rect x="112.10" y="142.20" width="5.15" height="3.70" fill="#c4c4c4"/>
<rect x="117.65" y="142.20" width="5.15" height="3.70" fill="#b3b3c9"/>
<rect x="123.20" y="142.20" width="5.15" height="3.70" fill="#b3b3c9"/>
<rect x="128.75" y="142.20" width="5.15" height="3.70" fill="#c4c4c4"/>
<rect x="112.10" y="146.30" width="5.15" height="3.70" fill="#c4c4c4"/>
<rect x="117.65" y="146.30" width="5.15" height="3.70" fill="#c4c4c4"/>
<rect x="123.20" y="146.30" width="5.15" height="3.70" fill="#c4c4c4"/>
<rect x="128.75" y="146.30" width="5.15" height="3.70" fill="#b3b3c9"/>
<rect x="112.10" y="150.40" width="5.15" height="3.70" fill="#c4c4c4"/>
<rect x="117.65" y="150.40" width="5.15" height="3.70" fill="#6d6ddf"/>
<rect x="123.20" y="150.40" width="5.15" height="3.70" fill="#cda8a8"/>
<rect x="128.75" y="150.40" width="5.15" height="3.70" fill="#0808ff"/>
<rect x="112.10" y="154.50" width="5.15" height="3.70" fill="#c4c4c4"/>
<rect x="117.65" y="154.50" width="5.15" height="3.70" fill="#3d3dee"/>
<rect x="123.20" y="154.50" width="5.15" height="3.70" fill="#d88787"/>
<rect x="128.75" y="154.50" width="5.15" height="3.70" fill="#d88787"/>
<rect x="112.10" y="158.60" width="5.15" height="3.70" fill="#c4c4c4"/>
<rect x="117.65" y="158.60" width="5.15" height="3.70" fill="#3d3dee"/>
<rect x="123.20" y="158.60" width="5.15" height="3.70" fill="#c4c4c4"/>
<rect x="128.75" y="158.60" width="5.15" height="3.70" fill="#9494d3"/>
<rect x="112.10" y="162.70" width="5.15" height="3.70" fill="#c4c4c4"/>
<rect x="117.65" y="162.70" width="5.15" height="3.70" fill="#3d3dee"/>
<rect x="123.20" y="162.70" width="5.15" height="3.70" fill="#c4c4c4"/>
<rect x="128.75" y="162.70" width="5.15" height="3.70" fill="#6d6ddf"/>
<rect x="112.10" y="166.80" width="5.15" height="3.70" fill="#c4c4c4"/>
<rect x="117.65" y="166.80" width="5.15" height="3.70" fill="#6d6ddf"/>
<rect x="123.20" y="166.80" width="5.15" height="3.70" fill="#cda8a8"/>
<rect x="128.75" y="166.80" width="5.15" height="3.70" fill="#b3b3c9"/>
<text x="122.60" y="28.20" font-size="9.3" text-anchor="middle" fill="#2a2a2a">FL4</text>
<line x1="111.30" y1="32.30" x2="133.70" y2="32.30" stroke="#555" stroke-width="1.2"/>
<text x="114.50" y="39.80" font-size="5.8" text-anchor="middle" fill="#333">C</text>
<text x="120.20" y="39.80" font-size="5.8" text-anchor="middle" fill="#333">I</text>
<text x="127.50" y="39.80" font-size="5.8" text-anchor="middle" fill="#333">C</text>
<text x="133.10" y="39.80" font-size="5.8" text-anchor="middle" fill="#333">I</text>
<rect x="112.90" y="43.00" width="8.90" height="1.60" fill="#f5901e"/>
<rect x="124.80" y="43.00" width="8.90" height="1.60" fill="#8c1450"/>
<rect x="138.20" y="47.70" width="22.20" height="123.00" fill="#e8e8e8"/>
<rect x="138.40" y="47.90" width="5.15" height="3.70" fill="#c4c4c4"/>
<rect x="143.95" y="47.90" width="5.15" height="3.70" fill="#c4c4c4"/>
<rect x="149.50" y="47.90" width="5.15" height="3.70" fill="#c4c4c4"/>
<rect x="155.05" y="47.90" width="5.15" height="3.70" fill="#c4c4c4"/>
<rect x="138.40" y="52.00" width="5.15" height="3.70" fill="#c4c4c4"/>
<rect x="143.95" y="52.00" width="5.15" height="3.70" fill="#6d6ddf"/>
<rect x="149.50" y="52.00" width="5.15" height="3.70" fill="#b3b3c9"/>
<rect x="155.05" y="52.00" width="5.15" height="3.70" fill="#3d3dee"/>
<rect x="138.40" y="56.10" width="5.15" height="3.70" fill="#c4c4c4"/>
<rect x="143.95" y="56.10" width="5.15" height="3.70" fill="#0808ff"/>
<rect x="149.50" y="56.10" width="5.15" height="3.70" fill="#b3b3c9"/>
<rect x="155.05" y="56.10" width="5.15" height="3.70" fill="#3d3dee"/>
<rect x="138.40" y="60.20" width="5.15" height="3.70" fill="#c4c4c4"/>
<rect x="143.95" y="60.20" width="5.15" height="3.70" fill="#3d3dee"/>
<rect x="149.50" y="60.20" width="5.15" height="3.70" fill="#d88787"/>
<rect x="155.05" y="60.20" width="5.15" height="3.70" fill="#3d3dee"/>
<rect x="138.40" y="64.30" width="5.15" height="3.70" fill="#c4c4c4"/>
<rect x="143.95" y="64.30" width="5.15" height="3.70" fill="#0808ff"/>
<rect x="149.50" y="64.30" width="5.15" height="3.70" fill="#3d3dee"/>
<rect x="155.05" y="64.30" width="5.15" height="3.70" fill="#0808ff"/>
<rect x="138.40" y="68.40" width="5.15" height="3.70" fill="#c4c4c4"/>
<rect x="143.95" y="68.40" width="5.15" height="3.70" fill="#b3b3c9"/>
<rect x="149.50" y="68.40" width="5.15" height="3.70" fill="#c4c4c4"/>
<rect x="155.05" y="68.40" width="5.15" height="3.70" fill="#b3b3c9"/>
<rect x="138.40" y="72.50" width="5.15" height="3.70" fill="#c4c4c4"/>
<rect x="143.95" y="72.50" width="5.15" height="3.70" fill="#0808ff"/>
<rect x="149.50" y="72.50" width="5.15" height="3.70" fill="#0808ff"/>
<rect x="155.05" y="72.50" width="5.15" height="3.70" fill="#0808ff"/>
<rect x="138.40" y="76.60" width="5.15" height="3.70" fill="#c4c4c4"/>
<rect x="143.95" y="76.60" width="5.15" height="3.70" fill="#cda8a8"/>
<rect x="149.50" y="76.60" width="5.15" height="3.70" fill="#cda8a8"/>
<rect x="155.05" y="76.60" width="5.15" height="3.70" fill="#b3b3c9"/>
<rect x="138.40" y="80.70" width="5.15" height="3.70" fill="#c4c4c4"/>
<rect x="143.95" y="80.70" width="5.15" height="3.70" fill="#b3b3c9"/>
<rect x="149.50" y="80.70" width="5.15" height="3.70" fill="#b3b3c9"/>
<rect x="155.05" y="80.70" width="5.15" height="3.70" fill="#c4c4c4"/>
<rect x="138.40" y="84.80" width="5.15" height="3.70" fill="#c4c4c4"/>
<rect x="143.95" y="84.80" width="5.15" height="3.70" fill="#9494d3"/>
<rect x="149.50" y="84.80" width="5.15" height="3.70" fill="#c4c4c4"/>
<rect x="155.05" y="84.80" width="5.15" height="3.70" fill="#6d6ddf"/>
<rect x="138.40" y="88.90" width="5.15" height="3.70" fill="#c4c4c4"/>
<rect x="143.95" y="88.90" width="5.15" height="3.70" fill="#6d6ddf"/>
<rect x="149.50" y="88.90" width="5.15" height="3.70" fill="#c4c4c4"/>
<rect x="155.05" y="88.90" width="5.15" height="3.70" fill="#6d6ddf"/>
<rect x="138.40" y="93.00" width="5.15" height="3.70" fill="#c4c4c4"/>
<rect x="143.95" y="93.00" width="5.15" height="3.70" fill="#6d6ddf"/>
<rect x="149.50" y="93.00" width="5.15" height="3.70" fill="#c4c4c4"/>
<rect x="155.05" y="93.00" width="5.15" height="3.70" fill="#b3b3c9"/>
<rect x="138.40" y="97.10" width="5.15" height="3.70" fill="#c4c4c4"/>
<rect x="143.95" y="97.10" width="5.15" height="3.70" fill="#6d6ddf"/>
<rect x="149.50" y="97.10" width="5.15" height="3.70" fill="#c4c4c4"/>
<rect x="155.05" y="97.10" width="5.15" height="3.70" fill="#b3b3c9"/>
<rect x="138.40" y="101.20" width="5.15" height="3.70" fill="#c4c4c4"/>
<rect x="143.95" y="101.20" width="5.15" height="3.70" fill="#6d6ddf"/>
<rect x="149.50" y="101.20" width="5.15" height="3.70" fill="#c4c4c4"/>
<rect x="155.05" y="101.20" width="5.15" height="3.70" fill="#b3b3c9"/>
<rect x="138.40" y="105.30" width="5.15" height="3.70" fill="#c4c4c4"/>
<rect x="143.95" y="105.30" width="5.15" height="3.70" fill="#c4c4c4"/>
<rect x="149.50" y="105.30" width="5.15" height="3.70" fill="#c4c4c4"/>
<rect x="155.05" y="105.30" width="5.15" height="3.70" fill="#6d6ddf"/>
<rect x="138.40" y="109.40" width="5.15" height="3.70" fill="#c4c4c4"/>
<rect x="143.95" y="109.40" width="5.15" height="3.70" fill="#0808ff"/>
<rect x="149.50" y="109.40" width="5.15" height="3.70" fill="#b3b3c9"/>
<rect x="155.05" y="109.40" width="5.15" height="3.70" fill="#6d6ddf"/>
<rect x="138.40" y="113.50" width="5.15" height="3.70" fill="#c4c4c4"/>
<rect x="143.95" y="113.50" width="5.15" height="3.70" fill="#0808ff"/>
<rect x="149.50" y="113.50" width="5.15" height="3.70" fill="#c4c4c4"/>
<rect x="155.05" y="113.50" width="5.15" height="3.70" fill="#9494d3"/>
<rect x="138.40" y="117.60" width="5.15" height="3.70" fill="#c4c4c4"/>
<rect x="143.95" y="117.60" width="5.15" height="3.70" fill="#b3b3c9"/>
<rect x="149.50" y="117.60" width="5.15" height="3.70" fill="#b3b3c9"/>
<rect x="155.05" y="117.60" width="5.15" height="3.70" fill="#c4c4c4"/>
<rect x="138.40" y="121.70" width="5.15" height="3.70" fill="#c4c4c4"/>
<rect x="143.95" y="121.70" width="5.15" height="3.70" fill="#6d6ddf"/>
<rect x="149.50" y="121.70" width="5.15" height="3.70" fill="#cda8a8"/>
<rect x="155.05" y="121.70" width="5.15" height="3.70" fill="#b3b3c9"/>
<rect x="138.40" y="125.80" width="5.15" height="3.70" fill="#c4c4c4"/>
<rect x="143.95" y="125.80" width="5.15" height="3.70" fill="#9494d3"/>
<rect x="149.50" y="125.80" width="5.15" height="3.70" fill="#9494d3"/>
<rect x="155.05" y="125.80" width="5.15" height="3.70" fill="#c4c4c4"/>
<rect x="138.40" y="129.90" width="5.15" height="3.70" fill="#c4c4c4"/>
<rect x="143.95" y="129.90" width="5.15" height="3.70" fill="#6d6ddf"/>
<rect x="149.50" y="129.90" width="5.15" height="3.70" fill="#d88787"/>
<rect x="155.05" y="129.90" width="5.15" height="3.70" fill="#c4c4c4"/>
<rect x="138.40" y="134.00" width="5.15" height="3.70" fill="#c4c4c4"/>
<rect x="143.95" y="134.00" width="5.15" height="3.70" fill="#cda8a8"/>
<rect x="149.50" y="134.00" width="5.15" height="3.70" fill="#e36565"/>
<rect x="155.05" y="134.00" width="5.15" height="3.70" fill="#c4c4c4"/>
<rect x="138.40" y="138.10" width="5.15" height="3.70" fill="#c4c4c4"/>
<rect x="143.95" y="138.10" width="5.15" height="3.70" fill="#9494d3"/>
<rect x="149.50" y="138.10" width="5.15" height="3.70" fill="#b3b3c9"/>
<rect x="155.05" y="138.10" width="5.15" height="3.70" fill="#c4c4c4"/>
<rect x="138.40" y="142.20" width="5.15" height="3.70" fill="#c4c4c4"/>
<rect x="143.95" y="142.20" width="5.15" height="3.70" fill="#3d3dee"/>
<rect x="149.50" y="142.20" width="5.15" height="3.70" fill="#c4c4c4"/>
<rect x="155.05" y="142.20" width="5.15" height="3.70" fill="#6d6ddf"/>
<rect x="138.40" y="146.30" width="5.15" height="3.70" fill="#c4c4c4"/>
<rect x="143.95" y="146.30" width="5.15" height="3.70" fill="#0808ff"/>
<rect x="149.50" y="146.30" width="5.15" height="3.70" fill="#9494d3"/>
<rect x="155.05" y="146.30" width="5.15" height="3.70" fill="#6d6ddf"/>
<rect x="138.40" y="150.40" width="5.15" height="3.70" fill="#c4c4c4"/>
<rect x="143.95" y="150.40" width="5.15" height="3.70" fill="#3d3dee"/>
<rect x="149.50" y="150.40" width="5.15" height="3.70" fill="#cda8a8"/>
<rect x="155.05" y="150.40" width="5.15" height="3.70" fill="#0808ff"/>
<rect x="138.40" y="154.50" width="5.15" height="3.70" fill="#c4c4c4"/>
<rect x="143.95" y="154.50" width="5.15" height="3.70" fill="#0808ff"/>
<rect x="149.50" y="154.50" width="5.15" height="3.70" fill="#e36565"/>
<rect x="155.05" y="154.50" width="5.15" height="3.70" fill="#6d6ddf"/>
<rect x="138.40" y="158.60" width="5.15" height="3.70" fill="#c4c4c4"/>
<rect x="143.95" y="158.60" width="5.15" height="3.70" fill="#c4c4c4"/>
<rect x="149.50" y="158.60" width="5.15" height="3.70" fill="#cda8a8"/>
<rect x="155.05" y="158.60" width="5.15" height="3.70" fill="#c4c4c4"/>
<rect x="138.40" y="162.70" width="5.15" height="3.70" fill="#c4c4c4"/>
<rect x="143.95" y="162.70" width="5.15" height="3.70" fill="#3d3dee"/>
<rect x="149.50" y="162.70" width="5.15" height="3.70" fill="#b3b3c9"/>
<rect x="155.05" y="162.70" width="5.15" height="3.70" fill="#3d3dee"/>
<rect x="138.40" y="166.80" width="5.15" height="3.70" fill="#c4c4c4"/>
<rect x="143.95" y="166.80" width="5.15" height="3.70" fill="#6d6ddf"/>
<rect x="149.50" y="166.80" width="5.15" height="3.70" fill="#c4c4c4"/>
<rect x="155.05" y="166.80" width="5.15" height="3.70" fill="#c4c4c4"/>
<text x="149.20" y="28.20" font-size="9.3" text-anchor="middle" fill="#2a2a2a">FL5</text>
<line x1="137.70" y1="32.30" x2="160.10" y2="32.30" stroke="#555" stroke-width="1.2"/>
<text x="140.80" y="39.80" font-size="5.8" text-anchor="middle" fill="#333">C</text>
<text x="146.50" y="39.80" font-size="5.8" text-anchor="middle" fill="#333">I</text>
<text x="153.80" y="39.80" font-size="5.8" text-anchor="middle" fill="#333">C</text>
<text x="159.40" y="39.80" font-size="5.8" text-anchor="middle" fill="#333">I</text>
<rect x="139.20" y="43.00" width="8.90" height="1.60" fill="#f5901e"/>
<rect x="151.10" y="43.00" width="8.90" height="1.60" fill="#8c1450"/>
<text x="162.1" y="51.55" font-size="3.4" fill="#2e2e2e" text-rendering="geometricPrecision">PLEK</text>
<text x="162.1" y="55.65" font-size="3.4" fill="#2e2e2e" text-rendering="geometricPrecision">SLAMF1</text>
<text x="162.1" y="59.75" font-size="3.4" fill="#2e2e2e" text-rendering="geometricPrecision">HDAC9</text>
<text x="162.1" y="63.85" font-size="3.4" fill="#2e2e2e" text-rendering="geometricPrecision">SYNGR3</text>
<text x="162.1" y="67.95" font-size="3.4" fill="#2e2e2e" text-rendering="geometricPrecision">DDIT4</text>
<text x="162.1" y="72.05" font-size="3.4" fill="#2e2e2e" text-rendering="geometricPrecision">TTC9</text>
<text x="162.1" y="76.15" font-size="3.4" fill="#2e2e2e" text-rendering="geometricPrecision">CCL22</text>
<text x="162.1" y="80.25" font-size="3.4" fill="#2e2e2e" text-rendering="geometricPrecision">PNOC</text>
<text x="162.1" y="84.35" font-size="3.4" fill="#2e2e2e" text-rendering="geometricPrecision">UBE2J1</text>
<text x="162.1" y="88.45" font-size="3.4" fill="#2e2e2e" text-rendering="geometricPrecision">BCL2A1</text>
<text x="162.1" y="92.55" font-size="3.4" fill="#2e2e2e" text-rendering="geometricPrecision">TRIB3</text>
<text x="162.1" y="96.65" font-size="3.4" fill="#2e2e2e" text-rendering="geometricPrecision">TNFSF9</text>
<text x="162.1" y="100.75" font-size="3.4" fill="#2e2e2e" text-rendering="geometricPrecision">PHACTR1</text>
<text x="162.1" y="104.85" font-size="3.4" fill="#2e2e2e" text-rendering="geometricPrecision">GCNT1</text>
<text x="162.1" y="108.95" font-size="3.4" fill="#2e2e2e" text-rendering="geometricPrecision">RAPGEF5</text>
<text x="162.1" y="113.05" font-size="3.4" fill="#2e2e2e" text-rendering="geometricPrecision">LAPTM5</text>
<text x="162.1" y="117.15" font-size="3.4" fill="#2e2e2e" text-rendering="geometricPrecision">TNFAIP8</text>
<text x="162.1" y="121.25" font-size="3.4" fill="#2e2e2e" text-rendering="geometricPrecision">TRAF1</text>
<text x="162.1" y="125.35" font-size="3.4" fill="#2e2e2e" text-rendering="geometricPrecision">BLNK</text>
<text x="162.1" y="129.45" font-size="3.4" fill="#2e2e2e" text-rendering="geometricPrecision">ICAM1</text>
<text x="162.1" y="133.55" font-size="3.4" fill="#2e2e2e" text-rendering="geometricPrecision">CSF2RB</text>
<text x="162.1" y="137.65" font-size="3.4" fill="#2e2e2e" text-rendering="geometricPrecision">CD38</text>
<text x="162.1" y="141.75" font-size="3.4" fill="#2e2e2e" text-rendering="geometricPrecision">BCL6</text>
<text x="162.1" y="145.85" font-size="3.4" fill="#2e2e2e" text-rendering="geometricPrecision">CD83</text>
<text x="162.1" y="149.95" font-size="3.4" fill="#2e2e2e" text-rendering="geometricPrecision">NFKBIE</text>
<text x="162.1" y="154.05" font-size="3.4" fill="#2e2e2e" text-rendering="geometricPrecision">ARL4C</text>
<text x="162.1" y="158.15" font-size="3.4" fill="#2e2e2e" text-rendering="geometricPrecision">HTR3A</text>
<text x="162.1" y="162.25" font-size="3.4" fill="#2e2e2e" text-rendering="geometricPrecision">VAV3</text>
<text x="162.1" y="166.35" font-size="3.4" fill="#2e2e2e" text-rendering="geometricPrecision">RAC2</text>
<text x="162.1" y="170.45" font-size="3.4" fill="#2e2e2e" text-rendering="geometricPrecision">NCF4</text>
<text x="180.80" y="56.85" font-size="4.5" text-anchor="middle" fill="#c0103a" font-weight="bold">*</text>
<text x="180.80" y="77.35" font-size="4.5" text-anchor="middle" fill="#c0103a" font-weight="bold">*</text>
<text x="180.80" y="130.65" font-size="4.5" text-anchor="middle" fill="#c0103a" font-weight="bold">*</text>
<text x="27.00" y="105.00" font-size="9.8" text-anchor="middle" fill="#222" transform="rotate(-90 27.00 105.00)" textLength="85.8" lengthAdjust="spacingAndGlyphs">CD40L signaling_ GC</text>
<defs><linearGradient id="cb" x1="0" x2="1" y1="0" y2="0"><stop offset="0" stop-color="#0000ff"/><stop offset="0.5" stop-color="#c8c8c8"/><stop offset="1" stop-color="#ff0000"/></linearGradient></defs>
<rect x="59.60" y="177.10" width="83.10" height="4.60" fill="url(#cb)"/>
<text x="59.30" y="187.80" font-size="5.6" text-anchor="middle" fill="#333">-1.50</text>
<text x="100.30" y="187.80" font-size="5.6" text-anchor="middle" fill="#333">0.00</text>
<text x="141.40" y="187.80" font-size="5.6" text-anchor="middle" fill="#333">1.50</text>
<text x="50.80" y="199.90" font-size="6.0" text-anchor="start" fill="#111" font-weight="bold">C</text>
<text x="57.30" y="199.90" font-size="5.6" text-anchor="middle" fill="#444">•</text>
<text x="59.50" y="199.90" font-size="5.6" text-anchor="start" fill="#444" textLength="16.5" lengthAdjust="spacingAndGlyphs">control</text>
<text x="51.20" y="211.30" font-size="6.0" text-anchor="start" fill="#111" font-weight="bold">I</text>
<text x="57.00" y="211.30" font-size="5.6" text-anchor="middle" fill="#444">•</text>
<text x="59.10" y="211.30" font-size="5.6" text-anchor="start" fill="#444" textLength="19.3" lengthAdjust="spacingAndGlyphs">Idelalisib</text>
<rect x="91.00" y="195.60" width="12.50" height="4.30" fill="#f5901e"/>
<rect x="91.00" y="207.60" width="12.50" height="4.00" fill="#8c1450"/>
<text x="107.50" y="199.90" font-size="5.6" text-anchor="start" fill="#333">Monoculture</text>
<text x="107.50" y="211.30" font-size="5.6" text-anchor="start" fill="#333">FDC co-culture</text>
<text x="197.60" y="17.50" font-size="12.0" text-anchor="start" fill="#000" font-weight="bold">B</text>
<rect x="243.25" y="153.48" width="26.30" height="8.62" fill="#c9c8ce"/>
<rect x="283.65" y="114.71" width="26.30" height="47.39" fill="#c9c8ce"/>
<rect x="324.05" y="131.30" width="26.30" height="30.80" fill="#c9c8ce"/>
<rect x="364.45" y="133.02" width="26.30" height="29.08" fill="#c9c8ce"/>
<line x1="236.50" y1="51.90" x2="236.50" y2="162.60" stroke="#1a1a1a" stroke-width="1.3"/>
<line x1="236.00" y1="162.10" x2="397.70" y2="162.10" stroke="#1a1a1a" stroke-width="1.3"/>
<line x1="233.30" y1="162.10" x2="236.50" y2="162.10" stroke="#1a1a1a" stroke-width="0.9"/>
<text x="229.85" y="164.35" font-size="6.6" text-anchor="end" fill="#2a2a2a" stroke="#2a2a2a" stroke-width="0.12" letter-spacing="0.25">0</text>
<line x1="233.30" y1="140.56" x2="236.50" y2="140.56" stroke="#1a1a1a" stroke-width="0.9"/>
<text x="229.85" y="142.81" font-size="6.6" text-anchor="end" fill="#2a2a2a" stroke="#2a2a2a" stroke-width="0.12" letter-spacing="0.25">10</text>
<line x1="233.30" y1="119.02" x2="236.50" y2="119.02" stroke="#1a1a1a" stroke-width="0.9"/>
<text x="229.85" y="121.27" font-size="6.6" text-anchor="end" fill="#2a2a2a" stroke="#2a2a2a" stroke-width="0.12" letter-spacing="0.25">20</text>
<line x1="233.30" y1="97.48" x2="236.50" y2="97.48" stroke="#1a1a1a" stroke-width="0.9"/>
<text x="229.85" y="99.73" font-size="6.6" text-anchor="end" fill="#2a2a2a" stroke="#2a2a2a" stroke-width="0.12" letter-spacing="0.25">30</text>
<line x1="233.30" y1="75.94" x2="236.50" y2="75.94" stroke="#1a1a1a" stroke-width="0.9"/>
<text x="229.85" y="78.19" font-size="6.6" text-anchor="end" fill="#2a2a2a" stroke="#2a2a2a" stroke-width="0.12" letter-spacing="0.25">40</text>
<line x1="233.30" y1="54.40" x2="236.50" y2="54.40" stroke="#1a1a1a" stroke-width="0.9"/>
<text x="229.85" y="56.65" font-size="6.6" text-anchor="end" fill="#2a2a2a" stroke="#2a2a2a" stroke-width="0.12" letter-spacing="0.25">50</text>
<line x1="256.40" y1="162.10" x2="256.40" y2="164.90" stroke="#1a1a1a" stroke-width="0.9"/>
<line x1="296.80" y1="162.10" x2="296.80" y2="164.90" stroke="#1a1a1a" stroke-width="0.9"/>
<line x1="337.20" y1="162.10" x2="337.20" y2="164.90" stroke="#1a1a1a" stroke-width="0.9"/>
<line x1="377.60" y1="162.10" x2="377.60" y2="164.90" stroke="#1a1a1a" stroke-width="0.9"/>
<text x="216.00" y="107.00" font-size="6.7" text-anchor="middle" fill="#2a2a2a" transform="rotate(-90 216.00 107.00)" stroke="#2a2a2a" stroke-width="0.12" textLength="50.6" lengthAdjust="spacingAndGlyphs">% cell proliferation</text>
<line x1="255.80" y1="63.80" x2="295.60" y2="63.80" stroke="#4a4a4a" stroke-width="1.2"/>
<text x="275.60" y="63.70" font-size="8.5" text-anchor="middle" fill="#111">***</text>
<line x1="298.00" y1="71.50" x2="340.50" y2="71.50" stroke="#4a4a4a" stroke-width="1.2"/>
<text x="319.20" y="71.40" font-size="8.5" text-anchor="middle" fill="#111">***</text>
<line x1="298.00" y1="47.70" x2="381.50" y2="47.70" stroke="#4a4a4a" stroke-width="1.2"/>
<text x="339.50" y="47.70" font-size="8.5" text-anchor="middle" fill="#111">***</text>
<circle cx="256.40" cy="160.16" r="1.95" fill="#5aa835" stroke="#222" stroke-width="0.6"/>
<circle cx="256.40" cy="151.98" r="1.95" fill="#2f5597" stroke="#222" stroke-width="0.6"/>
<circle cx="256.40" cy="153.91" r="1.95" fill="#1c3878" stroke="#222" stroke-width="0.6"/>
<circle cx="256.40" cy="157.58" r="1.95" fill="#d0127a" stroke="#222" stroke-width="0.6"/>
<circle cx="256.40" cy="144.87" r="1.95" fill="#f5921e" stroke="#222" stroke-width="0.6"/>
<circle cx="296.80" cy="78.31" r="1.95" fill="#f5921e" stroke="#222" stroke-width="0.6"/>
<circle cx="296.80" cy="97.91" r="1.95" fill="#64b0ee" stroke="#222" stroke-width="0.6"/>
<circle cx="296.80" cy="104.80" r="1.95" fill="#d0127a" stroke="#222" stroke-width="0.6"/>
<circle cx="296.80" cy="117.51" r="1.95" fill="#c0661c" stroke="#222" stroke-width="0.6"/>
<circle cx="296.80" cy="142.28" r="1.95" fill="#5aa835" stroke="#222" stroke-width="0.6"/>
<circle cx="296.80" cy="144.44" r="1.95" fill="#1c3878" stroke="#222" stroke-width="0.6"/>
<circle cx="337.20" cy="100.28" r="1.95" fill="#f5921e" stroke="#222" stroke-width="0.6"/>
<circle cx="337.20" cy="123.11" r="1.95" fill="#d0127a" stroke="#222" stroke-width="0.6"/>
<circle cx="337.20" cy="128.71" r="1.95" fill="#64b0ee" stroke="#222" stroke-width="0.6"/>
<circle cx="337.20" cy="133.02" r="1.95" fill="#c0661c" stroke="#222" stroke-width="0.6"/>
<circle cx="337.20" cy="145.51" r="1.95" fill="#5aa835" stroke="#222" stroke-width="0.6"/>
<circle cx="337.20" cy="153.27" r="1.95" fill="#1c3878" stroke="#222" stroke-width="0.6"/>
<circle cx="377.60" cy="102.65" r="1.95" fill="#f5921e" stroke="#222" stroke-width="0.6"/>
<circle cx="377.60" cy="124.19" r="1.95" fill="#d0127a" stroke="#222" stroke-width="0.6"/>
<circle cx="377.60" cy="129.36" r="1.95" fill="#64b0ee" stroke="#222" stroke-width="0.6"/>
<circle cx="377.60" cy="135.18" r="1.95" fill="#c0661c" stroke="#222" stroke-width="0.6"/>
<circle cx="377.60" cy="148.53" r="1.95" fill="#5aa835" stroke="#222" stroke-width="0.6"/>
<circle cx="377.60" cy="155.85" r="1.95" fill="#1c3878" stroke="#222" stroke-width="0.6"/>
<text x="256.60" y="174.50" font-size="6.6" text-anchor="middle" fill="#2a2a2a" textLength="21.5" lengthAdjust="spacingAndGlyphs">FL/YK6</text>
<text x="296.80" y="174.50" font-size="6.6" text-anchor="middle" fill="#2a2a2a">0</text>
<text x="337.40" y="174.50" font-size="6.6" text-anchor="middle" fill="#2a2a2a" textLength="16.2" lengthAdjust="spacingAndGlyphs">50nM</text>
<text x="377.80" y="174.50" font-size="6.6" text-anchor="middle" fill="#2a2a2a" textLength="19.6" lengthAdjust="spacingAndGlyphs">500nM</text>
<line x1="283.50" y1="176.90" x2="391.20" y2="176.90" stroke="#333" stroke-width="0.9"/>
<text x="337.40" y="185.80" font-size="6.6" text-anchor="middle" fill="#2a2a2a" textLength="44.0" lengthAdjust="spacingAndGlyphs">FL/YK6-CD40L</text>
<text x="411.60" y="174.20" font-size="6.6" text-anchor="start" fill="#2a2a2a" textLength="33.8" lengthAdjust="spacingAndGlyphs">IDELALISIB</text>
<circle cx="408.10" cy="73.90" r="1.95" fill="#f5921e" stroke="#222" stroke-width="0.6"/>
<text x="413.30" y="75.80" font-size="5.3" text-anchor="start" fill="#333">FL39</text>
<circle cx="408.10" cy="85.80" r="1.95" fill="#64b0ee" stroke="#222" stroke-width="0.6"/>
<text x="413.30" y="87.70" font-size="5.3" text-anchor="start" fill="#333">FL40</text>
<circle cx="408.10" cy="97.60" r="1.95" fill="#5aa835" stroke="#222" stroke-width="0.6"/>
<text x="413.30" y="99.50" font-size="5.3" text-anchor="start" fill="#333">FL32</text>
<circle cx="408.10" cy="109.60" r="1.95" fill="#d0127a" stroke="#222" stroke-width="0.6"/>
<text x="413.30" y="111.50" font-size="5.3" text-anchor="start" fill="#333">FL41</text>
<circle cx="408.10" cy="121.50" r="1.95" fill="#1c3878" stroke="#222" stroke-width="0.6"/>
<text x="413.30" y="123.40" font-size="5.3" text-anchor="start" fill="#333">FL42</text>
<circle cx="408.10" cy="133.10" r="1.95" fill="#c0661c" stroke="#222" stroke-width="0.6"/>
<text x="413.30" y="135.00" font-size="5.3" text-anchor="start" fill="#333">FL7</text>
<text x="7.00" y="241.00" font-size="12.0" text-anchor="start" fill="#000" font-weight="bold">C</text>
<line x1="48.50" y1="244.50" x2="48.50" y2="331.20" stroke="#1a1a1a" stroke-width="1.3"/>
<line x1="48.00" y1="330.70" x2="173.80" y2="330.70" stroke="#1a1a1a" stroke-width="1.3"/>
<line x1="45.30" y1="330.70" x2="48.50" y2="330.70" stroke="#1a1a1a" stroke-width="0.9"/>
<text x="42.45" y="332.95" font-size="6.4" text-anchor="end" fill="#2a2a2a" stroke="#2a2a2a" stroke-width="0.12" letter-spacing="0.25">0</text>
<line x1="45.30" y1="320.30" x2="48.50" y2="320.30" stroke="#1a1a1a" stroke-width="0.9"/>
<text x="42.45" y="322.55" font-size="6.4" text-anchor="end" fill="#2a2a2a" stroke="#2a2a2a" stroke-width="0.12" letter-spacing="0.25">2</text>
<line x1="45.30" y1="309.90" x2="48.50" y2="309.90" stroke="#1a1a1a" stroke-width="0.9"/>
<text x="42.45" y="312.15" font-size="6.4" text-anchor="end" fill="#2a2a2a" stroke="#2a2a2a" stroke-width="0.12" letter-spacing="0.25">4</text>
<line x1="45.30" y1="299.50" x2="48.50" y2="299.50" stroke="#1a1a1a" stroke-width="0.9"/>
<text x="42.45" y="301.75" font-size="6.4" text-anchor="end" fill="#2a2a2a" stroke="#2a2a2a" stroke-width="0.12" letter-spacing="0.25">6</text>
<line x1="45.30" y1="289.10" x2="48.50" y2="289.10" stroke="#1a1a1a" stroke-width="0.9"/>
<text x="42.45" y="291.35" font-size="6.4" text-anchor="end" fill="#2a2a2a" stroke="#2a2a2a" stroke-width="0.12" letter-spacing="0.25">8</text>
<line x1="45.30" y1="278.70" x2="48.50" y2="278.70" stroke="#1a1a1a" stroke-width="0.9"/>
<text x="42.45" y="280.95" font-size="6.4" text-anchor="end" fill="#2a2a2a" stroke="#2a2a2a" stroke-width="0.12" letter-spacing="0.25">10</text>
<line x1="45.30" y1="268.30" x2="48.50" y2="268.30" stroke="#1a1a1a" stroke-width="0.9"/>
<text x="42.45" y="270.55" font-size="6.4" text-anchor="end" fill="#2a2a2a" stroke="#2a2a2a" stroke-width="0.12" letter-spacing="0.25">12</text>
<line x1="45.30" y1="257.90" x2="48.50" y2="257.90" stroke="#1a1a1a" stroke-width="0.9"/>
<text x="42.45" y="260.15" font-size="6.4" text-anchor="end" fill="#2a2a2a" stroke="#2a2a2a" stroke-width="0.12" letter-spacing="0.25">14</text>
<line x1="45.30" y1="247.50" x2="48.50" y2="247.50" stroke="#1a1a1a" stroke-width="0.9"/>
<text x="42.45" y="249.75" font-size="6.4" text-anchor="end" fill="#2a2a2a" stroke="#2a2a2a" stroke-width="0.12" letter-spacing="0.25">16</text>
<line x1="80.00" y1="330.70" x2="80.00" y2="334.10" stroke="#1a1a1a" stroke-width="0.9"/>
<line x1="142.50" y1="330.70" x2="142.50" y2="334.10" stroke="#1a1a1a" stroke-width="0.9"/>
<text x="80.00" y="342.80" font-size="6.5" text-anchor="middle" fill="#222" textLength="23.0" lengthAdjust="spacingAndGlyphs">FL/FDC</text>
<text x="142.50" y="342.80" font-size="6.5" text-anchor="middle" fill="#222" textLength="45.2" lengthAdjust="spacingAndGlyphs">FL/FDC+IDELA</text>
<text x="29.40" y="287.95" font-size="7.2" text-anchor="middle" fill="#111" transform="rotate(-90 29.40 287.95)" stroke="#111" stroke-width="0.28" textLength="54.3" lengthAdjust="spacingAndGlyphs">SLAMF1 (MFI ratio)</text>
<text x="111.25" y="250.10" font-size="8.5" text-anchor="middle" fill="#111">***</text>
<circle cx="80.00" cy="252.18" r="1.75" fill="#b80d35"/>
<rect x="140.70" y="286.26" width="3.60" height="3.60" fill="#b80d35"/>
<circle cx="80.00" cy="288.06" r="1.75" fill="#b80d35"/>
<rect x="140.70" y="301.86" width="3.60" height="3.60" fill="#b80d35"/>
<circle cx="80.00" cy="289.10" r="1.75" fill="#b80d35"/>
<rect x="140.70" y="312.78" width="3.60" height="3.60" fill="#b80d35"/>
<circle cx="80.00" cy="294.30" r="1.75" fill="#b80d35"/>
<rect x="140.70" y="304.98" width="3.60" height="3.60" fill="#b80d35"/>
<circle cx="80.00" cy="296.38" r="1.75" fill="#b80d35"/>
<rect x="140.70" y="311.22" width="3.60" height="3.60" fill="#b80d35"/>
<circle cx="80.00" cy="297.42" r="1.75" fill="#b80d35"/>
<rect x="140.70" y="314.34" width="3.60" height="3.60" fill="#b80d35"/>
<circle cx="80.00" cy="315.10" r="1.75" fill="#b80d35"/>
<rect x="140.70" y="317.98" width="3.60" height="3.60" fill="#b80d35"/>
<circle cx="80.00" cy="319.78" r="1.75" fill="#b80d35"/>
<rect x="140.70" y="317.98" width="3.60" height="3.60" fill="#b80d35"/>
<line x1="80.00" y1="252.18" x2="142.50" y2="288.06" stroke="#000" stroke-width="1.1"/>
<line x1="80.00" y1="288.06" x2="142.50" y2="303.66" stroke="#000" stroke-width="1.1"/>
<line x1="80.00" y1="289.10" x2="142.50" y2="314.58" stroke="#000" stroke-width="1.1"/>
<line x1="80.00" y1="294.30" x2="142.50" y2="306.78" stroke="#000" stroke-width="1.1"/>
<line x1="80.00" y1="296.38" x2="142.50" y2="313.02" stroke="#000" stroke-width="1.1"/>
<line x1="80.00" y1="297.42" x2="142.50" y2="316.14" stroke="#000" stroke-width="1.1"/>
<line x1="80.00" y1="315.10" x2="142.50" y2="319.78" stroke="#000" stroke-width="1.1"/>
<line x1="80.00" y1="319.78" x2="142.50" y2="319.78" stroke="#000" stroke-width="1.1"/>
<line x1="209.50" y1="243.20" x2="209.50" y2="331.30" stroke="#1a1a1a" stroke-width="1.3"/>
<line x1="209.00" y1="330.80" x2="336.10" y2="330.80" stroke="#1a1a1a" stroke-width="1.3"/>
<line x1="206.30" y1="330.80" x2="209.50" y2="330.80" stroke="#1a1a1a" stroke-width="0.9"/>
<text x="203.15" y="333.05" font-size="6.4" text-anchor="end" fill="#2a2a2a" stroke="#2a2a2a" stroke-width="0.12" letter-spacing="0.25">0</text>
<line x1="206.30" y1="302.40" x2="209.50" y2="302.40" stroke="#1a1a1a" stroke-width="0.9"/>
<text x="203.15" y="304.65" font-size="6.4" text-anchor="end" fill="#2a2a2a" stroke="#2a2a2a" stroke-width="0.12" letter-spacing="0.25">20</text>
<line x1="206.30" y1="274.00" x2="209.50" y2="274.00" stroke="#1a1a1a" stroke-width="0.9"/>
<text x="203.15" y="276.25" font-size="6.4" text-anchor="end" fill="#2a2a2a" stroke="#2a2a2a" stroke-width="0.12" letter-spacing="0.25">40</text>
<line x1="206.30" y1="245.60" x2="209.50" y2="245.60" stroke="#1a1a1a" stroke-width="0.9"/>
<text x="203.15" y="247.85" font-size="6.4" text-anchor="end" fill="#2a2a2a" stroke="#2a2a2a" stroke-width="0.12" letter-spacing="0.25">60</text>
<line x1="241.10" y1="330.80" x2="241.10" y2="334.20" stroke="#1a1a1a" stroke-width="0.9"/>
<line x1="305.00" y1="330.80" x2="305.00" y2="334.20" stroke="#1a1a1a" stroke-width="0.9"/>
<text x="241.10" y="342.80" font-size="6.5" text-anchor="middle" fill="#222" textLength="23.0" lengthAdjust="spacingAndGlyphs">FL/FDC</text>
<text x="305.00" y="342.80" font-size="6.5" text-anchor="middle" fill="#222" textLength="45.2" lengthAdjust="spacingAndGlyphs">FL/FDC+IDELA</text>
<text x="189.70" y="287.15" font-size="7.3" text-anchor="middle" fill="#111" transform="rotate(-90 189.70 287.15)" stroke="#111" stroke-width="0.28" textLength="49.6" lengthAdjust="spacingAndGlyphs">ICAM1 (MFI ratio)</text>
<text x="272.80" y="250.20" font-size="8.5" text-anchor="middle" fill="#111">*</text>
<circle cx="241.10" cy="266.62" r="1.75" fill="#b80d35"/>
<rect x="303.20" y="284.98" width="3.60" height="3.60" fill="#b80d35"/>
<circle cx="241.10" cy="288.63" r="1.75" fill="#b80d35"/>
<rect x="303.20" y="287.39" width="3.60" height="3.60" fill="#b80d35"/>
<circle cx="241.10" cy="292.46" r="1.75" fill="#b80d35"/>
<rect x="303.20" y="301.31" width="3.60" height="3.60" fill="#b80d35"/>
<circle cx="241.10" cy="311.77" r="1.75" fill="#b80d35"/>
<rect x="303.20" y="312.39" width="3.60" height="3.60" fill="#b80d35"/>
<circle cx="241.10" cy="313.48" r="1.75" fill="#b80d35"/>
<rect x="303.20" y="314.66" width="3.60" height="3.60" fill="#b80d35"/>
<circle cx="241.10" cy="315.32" r="1.75" fill="#b80d35"/>
<rect x="303.20" y="316.65" width="3.60" height="3.60" fill="#b80d35"/>
<circle cx="241.10" cy="316.17" r="1.75" fill="#b80d35"/>
<rect x="303.20" y="318.92" width="3.60" height="3.60" fill="#b80d35"/>
<circle cx="241.10" cy="317.31" r="1.75" fill="#b80d35"/>
<rect x="303.20" y="321.62" width="3.60" height="3.60" fill="#b80d35"/>
<line x1="241.10" y1="266.62" x2="305.00" y2="286.78" stroke="#000" stroke-width="1.1"/>
<line x1="241.10" y1="288.63" x2="305.00" y2="289.19" stroke="#000" stroke-width="1.1"/>
<line x1="241.10" y1="292.46" x2="305.00" y2="303.11" stroke="#000" stroke-width="1.1"/>
<line x1="241.10" y1="311.77" x2="305.00" y2="314.19" stroke="#000" stroke-width="1.1"/>
<line x1="241.10" y1="313.48" x2="305.00" y2="316.46" stroke="#000" stroke-width="1.1"/>
<line x1="241.10" y1="315.32" x2="305.00" y2="318.45" stroke="#000" stroke-width="1.1"/>
<line x1="241.10" y1="316.17" x2="305.00" y2="320.72" stroke="#000" stroke-width="1.1"/>
<line x1="241.10" y1="317.31" x2="305.00" y2="323.42" stroke="#000" stroke-width="1.1"/>
<line x1="378.10" y1="243.50" x2="378.10" y2="331.20" stroke="#1a1a1a" stroke-width="1.3"/>
<line x1="377.60" y1="330.70" x2="505.50" y2="330.70" stroke="#1a1a1a" stroke-width="1.3"/>
<line x1="374.90" y1="330.70" x2="378.10" y2="330.70" stroke="#1a1a1a" stroke-width="0.9"/>
<text x="372.05" y="332.95" font-size="6.4" text-anchor="end" fill="#2a2a2a" stroke="#2a2a2a" stroke-width="0.12" letter-spacing="0.25">0</text>
<line x1="374.90" y1="316.60" x2="378.10" y2="316.60" stroke="#1a1a1a" stroke-width="0.9"/>
<text x="372.05" y="318.85" font-size="6.4" text-anchor="end" fill="#2a2a2a" stroke="#2a2a2a" stroke-width="0.12" letter-spacing="0.25">2</text>
<line x1="374.90" y1="302.50" x2="378.10" y2="302.50" stroke="#1a1a1a" stroke-width="0.9"/>
<text x="372.05" y="304.75" font-size="6.4" text-anchor="end" fill="#2a2a2a" stroke="#2a2a2a" stroke-width="0.12" letter-spacing="0.25">4</text>
<line x1="374.90" y1="288.40" x2="378.10" y2="288.40" stroke="#1a1a1a" stroke-width="0.9"/>
<text x="372.05" y="290.65" font-size="6.4" text-anchor="end" fill="#2a2a2a" stroke="#2a2a2a" stroke-width="0.12" letter-spacing="0.25">6</text>
<line x1="374.90" y1="274.30" x2="378.10" y2="274.30" stroke="#1a1a1a" stroke-width="0.9"/>
<text x="372.05" y="276.55" font-size="6.4" text-anchor="end" fill="#2a2a2a" stroke="#2a2a2a" stroke-width="0.12" letter-spacing="0.25">8</text>
<line x1="374.90" y1="260.20" x2="378.10" y2="260.20" stroke="#1a1a1a" stroke-width="0.9"/>
<text x="372.05" y="262.45" font-size="6.4" text-anchor="end" fill="#2a2a2a" stroke="#2a2a2a" stroke-width="0.12" letter-spacing="0.25">10</text>
<line x1="374.90" y1="246.10" x2="378.10" y2="246.10" stroke="#1a1a1a" stroke-width="0.9"/>
<text x="372.05" y="248.35" font-size="6.4" text-anchor="end" fill="#2a2a2a" stroke="#2a2a2a" stroke-width="0.12" letter-spacing="0.25">12</text>
<line x1="409.20" y1="330.70" x2="409.20" y2="334.10" stroke="#1a1a1a" stroke-width="0.9"/>
<line x1="473.20" y1="330.70" x2="473.20" y2="334.10" stroke="#1a1a1a" stroke-width="0.9"/>
<text x="409.20" y="342.80" font-size="6.5" text-anchor="middle" fill="#222" textLength="23.0" lengthAdjust="spacingAndGlyphs">FL/FDC</text>
<text x="473.20" y="342.80" font-size="6.5" text-anchor="middle" fill="#222" textLength="45.2" lengthAdjust="spacingAndGlyphs">FL/FDC+IDELA</text>
<text x="358.30" y="286.85" font-size="7.2" text-anchor="middle" fill="#111" transform="rotate(-90 358.30 286.85)" stroke="#111" stroke-width="0.28" textLength="45.6" lengthAdjust="spacingAndGlyphs">CD80 (MFI ratio)</text>
<text x="441.50" y="250.40" font-size="8.5" text-anchor="middle" fill="#111">*</text>
<circle cx="409.20" cy="258.93" r="1.75" fill="#b80d35"/>
<rect x="471.40" y="267.00" width="3.60" height="3.60" fill="#b80d35"/>
<circle cx="409.20" cy="270.07" r="1.75" fill="#b80d35"/>
<rect x="471.40" y="275.60" width="3.60" height="3.60" fill="#b80d35"/>
<circle cx="409.20" cy="275.00" r="1.75" fill="#b80d35"/>
<rect x="471.40" y="280.40" width="3.60" height="3.60" fill="#b80d35"/>
<circle cx="409.20" cy="288.40" r="1.75" fill="#b80d35"/>
<rect x="471.40" y="300.70" width="3.60" height="3.60" fill="#b80d35"/>
<circle cx="409.20" cy="300.38" r="1.75" fill="#b80d35"/>
<rect x="471.40" y="300.00" width="3.60" height="3.60" fill="#b80d35"/>
<circle cx="409.20" cy="303.42" r="1.75" fill="#b80d35"/>
<rect x="471.40" y="302.39" width="3.60" height="3.60" fill="#b80d35"/>
<circle cx="409.20" cy="309.69" r="1.75" fill="#b80d35"/>
<rect x="471.40" y="309.65" width="3.60" height="3.60" fill="#b80d35"/>
<circle cx="409.20" cy="312.86" r="1.75" fill="#b80d35"/>
<rect x="471.40" y="313.18" width="3.60" height="3.60" fill="#b80d35"/>
<line x1="409.20" y1="258.93" x2="473.20" y2="268.80" stroke="#000" stroke-width="1.1"/>
<line x1="409.20" y1="270.07" x2="473.20" y2="277.40" stroke="#000" stroke-width="1.1"/>
<line x1="409.20" y1="275.00" x2="473.20" y2="282.20" stroke="#000" stroke-width="1.1"/>
<line x1="409.20" y1="288.40" x2="473.20" y2="302.50" stroke="#000" stroke-width="1.1"/>
<line x1="409.20" y1="300.38" x2="473.20" y2="301.80" stroke="#000" stroke-width="1.1"/>
<line x1="409.20" y1="303.42" x2="473.20" y2="304.19" stroke="#000" stroke-width="1.1"/>
<line x1="409.20" y1="309.69" x2="473.20" y2="311.45" stroke="#000" stroke-width="1.1"/>
<line x1="409.20" y1="312.86" x2="473.20" y2="314.98" stroke="#000" stroke-width="1.1"/>
<text x="7.80" y="371.30" font-size="12.0" text-anchor="start" fill="#000" font-weight="bold">D</text>
<rect x="60.00" y="416.12" width="45.00" height="51.88" fill="#767a88"/>
<rect x="128.30" y="427.23" width="44.80" height="40.77" fill="#c6c5cb"/>
<line x1="48.55" y1="374.30" x2="48.55" y2="468.50" stroke="#1a1a1a" stroke-width="1.3"/>
<line x1="48.00" y1="468.00" x2="185.00" y2="468.00" stroke="#1a1a1a" stroke-width="1.3"/>
<line x1="45.35" y1="377.10" x2="48.55" y2="377.10" stroke="#1a1a1a" stroke-width="0.9"/>
<text x="42.95" y="379.35" font-size="6.4" text-anchor="end" fill="#2a2a2a" stroke="#2a2a2a" stroke-width="0.12" letter-spacing="0.25">5</text>
<line x1="45.35" y1="407.30" x2="48.55" y2="407.30" stroke="#1a1a1a" stroke-width="0.9"/>
<text x="42.95" y="409.55" font-size="6.4" text-anchor="end" fill="#2a2a2a" stroke="#2a2a2a" stroke-width="0.12" letter-spacing="0.25">0</text>
<line x1="45.35" y1="437.50" x2="48.55" y2="437.50" stroke="#1a1a1a" stroke-width="0.9"/>
<text x="42.95" y="439.75" font-size="6.4" text-anchor="end" fill="#2a2a2a" stroke="#2a2a2a" stroke-width="0.12" letter-spacing="0.25">-5</text>
<line x1="45.35" y1="467.70" x2="48.55" y2="467.70" stroke="#1a1a1a" stroke-width="0.9"/>
<text x="42.95" y="469.95" font-size="6.4" text-anchor="end" fill="#2a2a2a" stroke="#2a2a2a" stroke-width="0.12" letter-spacing="0.25">-10</text>
<line x1="82.40" y1="468.00" x2="82.40" y2="471.20" stroke="#1a1a1a" stroke-width="0.9"/>
<line x1="150.70" y1="468.00" x2="150.70" y2="471.20" stroke="#1a1a1a" stroke-width="0.9"/>
<circle cx="82.40" cy="396.19" r="1.8" fill="#b80d35"/>
<circle cx="82.40" cy="401.50" r="1.8" fill="#b80d35"/>
<circle cx="82.40" cy="406.21" r="1.8" fill="#b80d35"/>
<circle cx="82.40" cy="407.60" r="1.8" fill="#b80d35"/>
<circle cx="82.40" cy="409.11" r="1.8" fill="#b80d35"/>
<circle cx="82.40" cy="410.32" r="1.8" fill="#b80d35"/>
<circle cx="82.40" cy="411.53" r="1.8" fill="#b80d35"/>
<circle cx="82.40" cy="412.74" r="1.8" fill="#b80d35"/>
<circle cx="82.40" cy="413.94" r="1.8" fill="#b80d35"/>
<circle cx="82.40" cy="415.15" r="1.8" fill="#b80d35"/>
<circle cx="82.40" cy="416.36" r="1.8" fill="#b80d35"/>
<circle cx="82.40" cy="417.57" r="1.8" fill="#b80d35"/>
<circle cx="82.40" cy="418.78" r="1.8" fill="#b80d35"/>
<circle cx="82.40" cy="419.98" r="1.8" fill="#b80d35"/>
<circle cx="82.40" cy="424.21" r="1.8" fill="#b80d35"/>
<circle cx="82.40" cy="425.72" r="1.8" fill="#b80d35"/>
<circle cx="82.40" cy="426.63" r="1.8" fill="#b80d35"/>
<circle cx="82.40" cy="433.27" r="1.8" fill="#b80d35"/>
<circle cx="82.40" cy="441.12" r="1.8" fill="#b80d35"/>
<circle cx="150.70" cy="422.40" r="1.8" fill="#1e3b80"/>
<circle cx="150.70" cy="421.19" r="1.8" fill="#1e3b80"/>
<circle cx="150.70" cy="414.55" r="1.8" fill="#1e3b80"/>
<circle cx="150.70" cy="418.17" r="1.8" fill="#1e3b80"/>
<circle cx="150.70" cy="416.36" r="1.8" fill="#1e3b80"/>
<circle cx="150.70" cy="424.82" r="1.8" fill="#1e3b80"/>
<circle cx="150.70" cy="415.76" r="1.8" fill="#1e3b80"/>
<circle cx="150.70" cy="419.38" r="1.8" fill="#1e3b80"/>
<circle cx="150.70" cy="427.23" r="1.8" fill="#1e3b80"/>
<circle cx="150.70" cy="420.59" r="1.8" fill="#1e3b80"/>
<circle cx="150.70" cy="416.96" r="1.8" fill="#1e3b80"/>
<circle cx="150.70" cy="429.04" r="1.8" fill="#1e3b80"/>
<circle cx="150.70" cy="423.61" r="1.8" fill="#1e3b80"/>
<circle cx="150.70" cy="430.86" r="1.8" fill="#1e3b80"/>
<circle cx="150.70" cy="438.10" r="1.8" fill="#1e3b80"/>
<circle cx="150.70" cy="443.54" r="1.8" fill="#1e3b80"/>
<circle cx="150.70" cy="431.46" r="1.8" fill="#1e3b80"/>
<circle cx="150.70" cy="450.18" r="1.8" fill="#1e3b80"/>
<circle cx="150.70" cy="459.85" r="1.8" fill="#1e3b80"/>
<line x1="82.40" y1="396.19" x2="150.70" y2="422.40" stroke="#000" stroke-width="1.05"/>
<line x1="82.40" y1="401.50" x2="150.70" y2="421.19" stroke="#000" stroke-width="1.05"/>
<line x1="82.40" y1="406.21" x2="150.70" y2="414.55" stroke="#000" stroke-width="1.05"/>
<line x1="82.40" y1="407.60" x2="150.70" y2="418.17" stroke="#000" stroke-width="1.05"/>
<line x1="82.40" y1="409.11" x2="150.70" y2="416.36" stroke="#000" stroke-width="1.05"/>
<line x1="82.40" y1="410.32" x2="150.70" y2="424.82" stroke="#000" stroke-width="1.05"/>
<line x1="82.40" y1="411.53" x2="150.70" y2="415.76" stroke="#000" stroke-width="1.05"/>
<line x1="82.40" y1="412.74" x2="150.70" y2="419.38" stroke="#000" stroke-width="1.05"/>
<line x1="82.40" y1="413.94" x2="150.70" y2="427.23" stroke="#000" stroke-width="1.05"/>
<line x1="82.40" y1="415.15" x2="150.70" y2="420.59" stroke="#000" stroke-width="1.05"/>
<line x1="82.40" y1="416.36" x2="150.70" y2="416.96" stroke="#000" stroke-width="1.05"/>
<line x1="82.40" y1="417.57" x2="150.70" y2="429.04" stroke="#000" stroke-width="1.05"/>
<line x1="82.40" y1="418.78" x2="150.70" y2="423.61" stroke="#000" stroke-width="1.05"/>
<line x1="82.40" y1="419.98" x2="150.70" y2="430.86" stroke="#000" stroke-width="1.05"/>
<line x1="82.40" y1="424.21" x2="150.70" y2="438.10" stroke="#000" stroke-width="1.05"/>
<line x1="82.40" y1="425.72" x2="150.70" y2="443.54" stroke="#000" stroke-width="1.05"/>
<line x1="82.40" y1="426.63" x2="150.70" y2="431.46" stroke="#000" stroke-width="1.05"/>
<line x1="82.40" y1="433.27" x2="150.70" y2="450.18" stroke="#000" stroke-width="1.05"/>
<line x1="82.40" y1="441.12" x2="150.70" y2="459.85" stroke="#000" stroke-width="1.05"/>
<text x="82.40" y="480.00" font-size="6.5" text-anchor="middle" fill="#222" textLength="23.0" lengthAdjust="spacingAndGlyphs">FL/FDC</text>
<text x="150.70" y="480.00" font-size="6.5" text-anchor="middle" fill="#222" textLength="45.5" lengthAdjust="spacingAndGlyphs">FL/FDC+IDELA</text>
<text x="116.00" y="387.10" font-size="8.5" text-anchor="middle" fill="#111">***</text>
<text x="26.60" y="421.80" font-size="7.4" text-anchor="middle" fill="#111" transform="rotate(-90 26.60 421.80)" stroke="#111" stroke-width="0.12" textLength="58.4" lengthAdjust="spacingAndGlyphs">CCL22 mRNA (-ΔCt)</text>
<text x="200.60" y="371.00" font-size="12.0" text-anchor="start" fill="#000" font-weight="bold">E</text>
<rect x="264.90" y="416.50" width="42.70" height="51.50" fill="#767a88"/>
<rect x="329.10" y="431.40" width="42.40" height="36.60" fill="#c6c5cb"/>
<line x1="254.10" y1="379.40" x2="254.10" y2="468.50" stroke="#1a1a1a" stroke-width="1.3"/>
<line x1="253.60" y1="468.00" x2="382.50" y2="468.00" stroke="#1a1a1a" stroke-width="1.3"/>
<line x1="250.90" y1="468.00" x2="254.10" y2="468.00" stroke="#1a1a1a" stroke-width="0.9"/>
<text x="247.75" y="470.25" font-size="6.4" text-anchor="end" fill="#2a2a2a" stroke="#2a2a2a" stroke-width="0.12" letter-spacing="0.25">100</text>
<line x1="252.50" y1="459.38" x2="254.10" y2="459.38" stroke="#1a1a1a" stroke-width="0.6"/>
<line x1="252.50" y1="454.34" x2="254.10" y2="454.34" stroke="#1a1a1a" stroke-width="0.6"/>
<line x1="252.50" y1="450.76" x2="254.10" y2="450.76" stroke="#1a1a1a" stroke-width="0.6"/>
<line x1="252.50" y1="447.99" x2="254.10" y2="447.99" stroke="#1a1a1a" stroke-width="0.6"/>
<line x1="252.50" y1="445.72" x2="254.10" y2="445.72" stroke="#1a1a1a" stroke-width="0.6"/>
<line x1="252.50" y1="443.80" x2="254.10" y2="443.80" stroke="#1a1a1a" stroke-width="0.6"/>
<line x1="252.50" y1="442.14" x2="254.10" y2="442.14" stroke="#1a1a1a" stroke-width="0.6"/>
<line x1="252.50" y1="440.68" x2="254.10" y2="440.68" stroke="#1a1a1a" stroke-width="0.6"/>
<line x1="250.90" y1="439.37" x2="254.10" y2="439.37" stroke="#1a1a1a" stroke-width="0.9"/>
<text x="247.75" y="441.62" font-size="6.4" text-anchor="end" fill="#2a2a2a" stroke="#2a2a2a" stroke-width="0.12" letter-spacing="0.25">1000</text>
<line x1="252.50" y1="430.75" x2="254.10" y2="430.75" stroke="#1a1a1a" stroke-width="0.6"/>
<line x1="252.50" y1="425.71" x2="254.10" y2="425.71" stroke="#1a1a1a" stroke-width="0.6"/>
<line x1="252.50" y1="422.13" x2="254.10" y2="422.13" stroke="#1a1a1a" stroke-width="0.6"/>
<line x1="252.50" y1="419.36" x2="254.10" y2="419.36" stroke="#1a1a1a" stroke-width="0.6"/>
<line x1="252.50" y1="417.09" x2="254.10" y2="417.09" stroke="#1a1a1a" stroke-width="0.6"/>
<line x1="252.50" y1="415.17" x2="254.10" y2="415.17" stroke="#1a1a1a" stroke-width="0.6"/>
<line x1="252.50" y1="413.51" x2="254.10" y2="413.51" stroke="#1a1a1a" stroke-width="0.6"/>
<line x1="252.50" y1="412.05" x2="254.10" y2="412.05" stroke="#1a1a1a" stroke-width="0.6"/>
<line x1="250.90" y1="410.74" x2="254.10" y2="410.74" stroke="#1a1a1a" stroke-width="0.9"/>
<text x="247.75" y="412.99" font-size="6.4" text-anchor="end" fill="#2a2a2a" stroke="#2a2a2a" stroke-width="0.12" letter-spacing="0.25">10000</text>
<line x1="252.50" y1="402.12" x2="254.10" y2="402.12" stroke="#1a1a1a" stroke-width="0.6"/>
<line x1="252.50" y1="397.08" x2="254.10" y2="397.08" stroke="#1a1a1a" stroke-width="0.6"/>
<line x1="252.50" y1="393.50" x2="254.10" y2="393.50" stroke="#1a1a1a" stroke-width="0.6"/>
<line x1="252.50" y1="390.73" x2="254.10" y2="390.73" stroke="#1a1a1a" stroke-width="0.6"/>
<line x1="252.50" y1="388.46" x2="254.10" y2="388.46" stroke="#1a1a1a" stroke-width="0.6"/>
<line x1="252.50" y1="386.54" x2="254.10" y2="386.54" stroke="#1a1a1a" stroke-width="0.6"/>
<line x1="252.50" y1="384.88" x2="254.10" y2="384.88" stroke="#1a1a1a" stroke-width="0.6"/>
<line x1="252.50" y1="383.42" x2="254.10" y2="383.42" stroke="#1a1a1a" stroke-width="0.6"/>
<line x1="250.90" y1="382.11" x2="254.10" y2="382.11" stroke="#1a1a1a" stroke-width="0.9"/>
<text x="247.75" y="384.36" font-size="6.4" text-anchor="end" fill="#2a2a2a" stroke="#2a2a2a" stroke-width="0.12" letter-spacing="0.25">100000</text>
<line x1="286.20" y1="468.00" x2="286.20" y2="471.20" stroke="#1a1a1a" stroke-width="0.9"/>
<line x1="350.80" y1="468.00" x2="350.80" y2="471.20" stroke="#1a1a1a" stroke-width="0.9"/>
<circle cx="286.20" cy="402.20" r="1.8" fill="#b80d35"/>
<circle cx="350.80" cy="436.30" r="1.8" fill="#1e3b80"/>
<circle cx="286.20" cy="406.50" r="1.8" fill="#b80d35"/>
<circle cx="350.80" cy="419.00" r="1.8" fill="#1e3b80"/>
<circle cx="286.20" cy="408.10" r="1.8" fill="#b80d35"/>
<circle cx="350.80" cy="421.90" r="1.8" fill="#1e3b80"/>
<circle cx="286.20" cy="409.60" r="1.8" fill="#b80d35"/>
<circle cx="350.80" cy="433.50" r="1.8" fill="#1e3b80"/>
<circle cx="286.20" cy="411.60" r="1.8" fill="#b80d35"/>
<circle cx="350.80" cy="424.80" r="1.8" fill="#1e3b80"/>
<circle cx="286.20" cy="414.20" r="1.8" fill="#b80d35"/>
<circle cx="350.80" cy="438.40" r="1.8" fill="#1e3b80"/>
<circle cx="286.20" cy="416.50" r="1.8" fill="#b80d35"/>
<circle cx="350.80" cy="434.80" r="1.8" fill="#1e3b80"/>
<circle cx="286.20" cy="425.30" r="1.8" fill="#b80d35"/>
<circle cx="350.80" cy="442.10" r="1.8" fill="#1e3b80"/>
<circle cx="286.20" cy="434.20" r="1.8" fill="#b80d35"/>
<circle cx="350.80" cy="446.40" r="1.8" fill="#1e3b80"/>
<circle cx="286.20" cy="439.30" r="1.8" fill="#b80d35"/>
<circle cx="350.80" cy="464.60" r="1.8" fill="#1e3b80"/>
<circle cx="286.20" cy="440.40" r="1.8" fill="#b80d35"/>
<circle cx="350.80" cy="448.50" r="1.8" fill="#1e3b80"/>
<circle cx="286.20" cy="444.50" r="1.8" fill="#b80d35"/>
<circle cx="350.80" cy="450.20" r="1.8" fill="#1e3b80"/>
<circle cx="286.20" cy="453.90" r="1.8" fill="#b80d35"/>
<circle cx="350.80" cy="458.00" r="1.8" fill="#1e3b80"/>
<line x1="286.20" y1="402.20" x2="350.80" y2="436.30" stroke="#000" stroke-width="1.1"/>
<line x1="286.20" y1="406.50" x2="350.80" y2="419.00" stroke="#000" stroke-width="1.1"/>
<line x1="286.20" y1="408.10" x2="350.80" y2="421.90" stroke="#000" stroke-width="1.1"/>
<line x1="286.20" y1="409.60" x2="350.80" y2="433.50" stroke="#000" stroke-width="1.1"/>
<line x1="286.20" y1="411.60" x2="350.80" y2="424.80" stroke="#000" stroke-width="1.1"/>
<line x1="286.20" y1="414.20" x2="350.80" y2="438.40" stroke="#000" stroke-width="1.1"/>
<line x1="286.20" y1="416.50" x2="350.80" y2="434.80" stroke="#000" stroke-width="1.1"/>
<line x1="286.20" y1="425.30" x2="350.80" y2="442.10" stroke="#000" stroke-width="1.1"/>
<line x1="286.20" y1="434.20" x2="350.80" y2="446.40" stroke="#000" stroke-width="1.1"/>
<line x1="286.20" y1="439.30" x2="350.80" y2="464.60" stroke="#000" stroke-width="1.1"/>
<line x1="286.20" y1="440.40" x2="350.80" y2="448.50" stroke="#000" stroke-width="1.1"/>
<line x1="286.20" y1="444.50" x2="350.80" y2="450.20" stroke="#000" stroke-width="1.1"/>
<line x1="286.20" y1="453.90" x2="350.80" y2="458.00" stroke="#000" stroke-width="1.1"/>
<text x="286.20" y="480.00" font-size="6.5" text-anchor="middle" fill="#222" textLength="23.0" lengthAdjust="spacingAndGlyphs">FL/FDC</text>
<text x="350.80" y="480.00" font-size="6.5" text-anchor="middle" fill="#222" textLength="45.5" lengthAdjust="spacingAndGlyphs">FL/FDC+IDELA</text>
<text x="318.40" y="386.60" font-size="8.5" text-anchor="middle" fill="#111">***</text>
<text x="219.60" y="423.90" font-size="8.0" text-anchor="middle" fill="#111" transform="rotate(-90 219.60 423.90)" stroke="#111" stroke-width="0.12" textLength="41.0" lengthAdjust="spacingAndGlyphs">CCL22 (pg/ml)</text>
<text x="7.50" y="508.30" font-size="12.0" text-anchor="start" fill="#000" font-weight="bold">F</text>
<text x="17.50" y="515.80" font-size="9.6" text-anchor="start" fill="#111" font-weight="bold">(i)</text>
<text x="178.60" y="515.80" font-size="9.6" text-anchor="start" fill="#111" font-weight="bold" textLength="12.9" lengthAdjust="spacingAndGlyphs">(ii)</text>
<text x="342.70" y="515.80" font-size="9.6" text-anchor="start" fill="#111" font-weight="bold" textLength="15.2" lengthAdjust="spacingAndGlyphs">(iii)</text>
<line x1="48.45" y1="520.10" x2="48.45" y2="607.70" stroke="#1a1a1a" stroke-width="1.3"/>
<line x1="47.95" y1="607.20" x2="166.80" y2="607.20" stroke="#1a1a1a" stroke-width="1.3"/>
<line x1="45.25" y1="607.20" x2="48.45" y2="607.20" stroke="#1a1a1a" stroke-width="0.9"/>
<text x="42.65" y="609.45" font-size="6.4" text-anchor="end" fill="#2a2a2a" stroke="#2a2a2a" stroke-width="0.12" letter-spacing="0.25">0</text>
<line x1="45.25" y1="590.30" x2="48.45" y2="590.30" stroke="#1a1a1a" stroke-width="0.9"/>
<text x="42.65" y="592.55" font-size="6.4" text-anchor="end" fill="#2a2a2a" stroke="#2a2a2a" stroke-width="0.12" letter-spacing="0.25">20</text>
<line x1="45.25" y1="573.40" x2="48.45" y2="573.40" stroke="#1a1a1a" stroke-width="0.9"/>
<text x="42.65" y="575.65" font-size="6.4" text-anchor="end" fill="#2a2a2a" stroke="#2a2a2a" stroke-width="0.12" letter-spacing="0.25">40</text>
<line x1="45.25" y1="556.50" x2="48.45" y2="556.50" stroke="#1a1a1a" stroke-width="0.9"/>
<text x="42.65" y="558.75" font-size="6.4" text-anchor="end" fill="#2a2a2a" stroke="#2a2a2a" stroke-width="0.12" letter-spacing="0.25">60</text>
<line x1="45.25" y1="539.60" x2="48.45" y2="539.60" stroke="#1a1a1a" stroke-width="0.9"/>
<text x="42.65" y="541.85" font-size="6.4" text-anchor="end" fill="#2a2a2a" stroke="#2a2a2a" stroke-width="0.12" letter-spacing="0.25">80</text>
<line x1="45.25" y1="522.70" x2="48.45" y2="522.70" stroke="#1a1a1a" stroke-width="0.9"/>
<text x="42.65" y="524.95" font-size="6.4" text-anchor="end" fill="#2a2a2a" stroke="#2a2a2a" stroke-width="0.12" letter-spacing="0.25">100</text>
<line x1="79.80" y1="607.20" x2="79.80" y2="610.60" stroke="#1a1a1a" stroke-width="0.9"/>
<line x1="143.00" y1="607.20" x2="143.00" y2="610.60" stroke="#1a1a1a" stroke-width="0.9"/>
<text x="79.80" y="619.30" font-size="6.5" text-anchor="middle" fill="#222" textLength="23.0" lengthAdjust="spacingAndGlyphs">FL/FDC</text>
<text x="143.00" y="619.30" font-size="6.5" text-anchor="middle" fill="#222" textLength="45.2" lengthAdjust="spacingAndGlyphs">FL/FDC+IDELA</text>
<text x="25.00" y="563.50" font-size="7.0" text-anchor="middle" fill="#111" transform="rotate(-90 25.00 563.50)" stroke="#111" stroke-width="0.1" textLength="44.0" lengthAdjust="spacingAndGlyphs">% T<tspan font-size="4.6" dy="2.0">reg</tspan><tspan dy="-2.0"> </tspan>migration</text>
<text x="111.50" y="516.40" font-size="8.5" text-anchor="middle" fill="#111">***</text>
<rect x="77.95" y="521.36" width="3.7" height="3.7" fill="#fbe9ee" stroke="#b80d35" stroke-width="1.05"/>
<rect x="140.95" y="562.98" width="4.10" height="4.10" fill="#1e3b80"/>
<rect x="77.95" y="539.78" width="3.7" height="3.7" fill="#fbe9ee" stroke="#b80d35" stroke-width="1.05"/>
<rect x="140.95" y="575.15" width="4.10" height="4.10" fill="#1e3b80"/>
<rect x="77.95" y="558.03" width="3.7" height="3.7" fill="#fbe9ee" stroke="#b80d35" stroke-width="1.05"/>
<rect x="140.95" y="591.21" width="4.10" height="4.10" fill="#1e3b80"/>
<rect x="77.95" y="562.68" width="3.7" height="3.7" fill="#fbe9ee" stroke="#b80d35" stroke-width="1.05"/>
<rect x="140.95" y="585.72" width="4.10" height="4.10" fill="#1e3b80"/>
<rect x="77.95" y="564.37" width="3.7" height="3.7" fill="#fbe9ee" stroke="#b80d35" stroke-width="1.05"/>
<rect x="140.95" y="588.25" width="4.10" height="4.10" fill="#1e3b80"/>
<rect x="77.95" y="567.33" width="3.7" height="3.7" fill="#fbe9ee" stroke="#b80d35" stroke-width="1.05"/>
<rect x="140.95" y="595.01" width="4.10" height="4.10" fill="#1e3b80"/>
<rect x="77.95" y="569.86" width="3.7" height="3.7" fill="#fbe9ee" stroke="#b80d35" stroke-width="1.05"/>
<rect x="140.95" y="576.84" width="4.10" height="4.10" fill="#1e3b80"/>
<rect x="77.95" y="587.35" width="3.7" height="3.7" fill="#fbe9ee" stroke="#b80d35" stroke-width="1.05"/>
<rect x="140.95" y="596.70" width="4.10" height="4.10" fill="#1e3b80"/>
<rect x="77.95" y="596.06" width="3.7" height="3.7" fill="#fbe9ee" stroke="#b80d35" stroke-width="1.05"/>
<rect x="140.95" y="600.50" width="4.10" height="4.10" fill="#1e3b80"/>
<rect x="77.95" y="596.90" width="3.7" height="3.7" fill="#fbe9ee" stroke="#b80d35" stroke-width="1.05"/>
<rect x="140.95" y="598.39" width="4.10" height="4.10" fill="#1e3b80"/>
<rect x="77.95" y="598.59" width="3.7" height="3.7" fill="#fbe9ee" stroke="#b80d35" stroke-width="1.05"/>
<rect x="140.95" y="602.62" width="4.10" height="4.10" fill="#1e3b80"/>
<rect x="77.95" y="601.12" width="3.7" height="3.7" fill="#fbe9ee" stroke="#b80d35" stroke-width="1.05"/>
<rect x="140.95" y="604.31" width="4.10" height="4.10" fill="#1e3b80"/>
<rect x="77.95" y="603.66" width="3.7" height="3.7" fill="#fbe9ee" stroke="#b80d35" stroke-width="1.05"/>
<rect x="140.95" y="604.90" width="4.10" height="4.10" fill="#1e3b80"/>
<line x1="79.80" y1="523.21" x2="143.00" y2="565.03" stroke="#000" stroke-width="1.1"/>
<line x1="79.80" y1="541.63" x2="143.00" y2="577.20" stroke="#000" stroke-width="1.1"/>
<line x1="79.80" y1="559.88" x2="143.00" y2="593.26" stroke="#000" stroke-width="1.1"/>
<line x1="79.80" y1="564.53" x2="143.00" y2="587.77" stroke="#000" stroke-width="1.1"/>
<line x1="79.80" y1="566.22" x2="143.00" y2="590.30" stroke="#000" stroke-width="1.1"/>
<line x1="79.80" y1="569.18" x2="143.00" y2="597.06" stroke="#000" stroke-width="1.1"/>
<line x1="79.80" y1="571.71" x2="143.00" y2="578.89" stroke="#000" stroke-width="1.1"/>
<line x1="79.80" y1="589.20" x2="143.00" y2="598.75" stroke="#000" stroke-width="1.1"/>
<line x1="79.80" y1="597.91" x2="143.00" y2="602.55" stroke="#000" stroke-width="1.1"/>
<line x1="79.80" y1="598.75" x2="143.00" y2="600.44" stroke="#000" stroke-width="1.1"/>
<line x1="79.80" y1="600.44" x2="143.00" y2="604.67" stroke="#000" stroke-width="1.1"/>
<line x1="79.80" y1="602.98" x2="143.00" y2="606.36" stroke="#000" stroke-width="1.1"/>
<line x1="79.80" y1="605.51" x2="143.00" y2="606.95" stroke="#000" stroke-width="1.1"/>
<line x1="209.40" y1="519.50" x2="209.40" y2="607.30" stroke="#1a1a1a" stroke-width="1.3"/>
<line x1="208.90" y1="606.80" x2="334.40" y2="606.80" stroke="#1a1a1a" stroke-width="1.3"/>
<line x1="206.20" y1="606.80" x2="209.40" y2="606.80" stroke="#1a1a1a" stroke-width="0.9"/>
<text x="203.55" y="609.05" font-size="6.4" text-anchor="end" fill="#2a2a2a" stroke="#2a2a2a" stroke-width="0.12" letter-spacing="0.25">0</text>
<line x1="206.20" y1="585.60" x2="209.40" y2="585.60" stroke="#1a1a1a" stroke-width="0.9"/>
<text x="203.55" y="587.85" font-size="6.4" text-anchor="end" fill="#2a2a2a" stroke="#2a2a2a" stroke-width="0.12" letter-spacing="0.25">20</text>
<line x1="206.20" y1="564.40" x2="209.40" y2="564.40" stroke="#1a1a1a" stroke-width="0.9"/>
<text x="203.55" y="566.65" font-size="6.4" text-anchor="end" fill="#2a2a2a" stroke="#2a2a2a" stroke-width="0.12" letter-spacing="0.25">40</text>
<line x1="206.20" y1="543.20" x2="209.40" y2="543.20" stroke="#1a1a1a" stroke-width="0.9"/>
<text x="203.55" y="545.45" font-size="6.4" text-anchor="end" fill="#2a2a2a" stroke="#2a2a2a" stroke-width="0.12" letter-spacing="0.25">60</text>
<line x1="206.20" y1="522.00" x2="209.40" y2="522.00" stroke="#1a1a1a" stroke-width="0.9"/>
<text x="203.55" y="524.25" font-size="6.4" text-anchor="end" fill="#2a2a2a" stroke="#2a2a2a" stroke-width="0.12" letter-spacing="0.25">80</text>
<line x1="241.50" y1="606.80" x2="241.50" y2="610.20" stroke="#1a1a1a" stroke-width="0.9"/>
<line x1="305.00" y1="606.80" x2="305.00" y2="610.20" stroke="#1a1a1a" stroke-width="0.9"/>
<text x="241.50" y="619.30" font-size="6.5" text-anchor="middle" fill="#222" textLength="23.0" lengthAdjust="spacingAndGlyphs">FL/FDC</text>
<text x="305.00" y="619.30" font-size="6.5" text-anchor="middle" fill="#222" textLength="45.2" lengthAdjust="spacingAndGlyphs">FL/FDC+IDELA</text>
<text x="190.60" y="564.80" font-size="7.0" text-anchor="middle" fill="#111" transform="rotate(-90 190.60 564.80)" stroke="#111" stroke-width="0.1" textLength="45.2" lengthAdjust="spacingAndGlyphs">% T<tspan font-size="4.6" dy="2.0">H</tspan><tspan dy="-2.0"> </tspan>migration</text>
<text x="272.80" y="516.20" font-size="6.6" text-anchor="middle" fill="#333">ns</text>
<rect x="239.65" y="551.95" width="3.7" height="3.7" fill="#fbe9ee" stroke="#b80d35" stroke-width="1.05"/>
<rect x="302.95" y="525.25" width="4.10" height="4.10" fill="#1e3b80"/>
<rect x="239.65" y="561.81" width="3.7" height="3.7" fill="#fbe9ee" stroke="#b80d35" stroke-width="1.05"/>
<rect x="302.95" y="567.12" width="4.10" height="4.10" fill="#1e3b80"/>
<rect x="239.65" y="578.45" width="3.7" height="3.7" fill="#fbe9ee" stroke="#b80d35" stroke-width="1.05"/>
<rect x="302.95" y="590.23" width="4.10" height="4.10" fill="#1e3b80"/>
<rect x="239.65" y="604.42" width="3.7" height="3.7" fill="#fbe9ee" stroke="#b80d35" stroke-width="1.05"/>
<rect x="302.95" y="578.25" width="4.10" height="4.10" fill="#1e3b80"/>
<rect x="239.65" y="594.88" width="3.7" height="3.7" fill="#fbe9ee" stroke="#b80d35" stroke-width="1.05"/>
<rect x="302.95" y="592.67" width="4.10" height="4.10" fill="#1e3b80"/>
<rect x="239.65" y="596.47" width="3.7" height="3.7" fill="#fbe9ee" stroke="#b80d35" stroke-width="1.05"/>
<rect x="302.95" y="597.97" width="4.10" height="4.10" fill="#1e3b80"/>
<rect x="239.65" y="598.17" width="3.7" height="3.7" fill="#fbe9ee" stroke="#b80d35" stroke-width="1.05"/>
<rect x="302.95" y="594.57" width="4.10" height="4.10" fill="#1e3b80"/>
<rect x="239.65" y="601.24" width="3.7" height="3.7" fill="#fbe9ee" stroke="#b80d35" stroke-width="1.05"/>
<rect x="302.95" y="599.13" width="4.10" height="4.10" fill="#1e3b80"/>
<line x1="241.50" y1="553.80" x2="305.00" y2="527.30" stroke="#000" stroke-width="1.1"/>
<line x1="241.50" y1="563.66" x2="305.00" y2="569.17" stroke="#000" stroke-width="1.1"/>
<line x1="241.50" y1="580.30" x2="305.00" y2="592.28" stroke="#000" stroke-width="1.1"/>
<line x1="241.50" y1="606.27" x2="305.00" y2="580.30" stroke="#000" stroke-width="1.1"/>
<line x1="241.50" y1="596.73" x2="305.00" y2="594.72" stroke="#000" stroke-width="1.1"/>
<line x1="241.50" y1="598.32" x2="305.00" y2="600.02" stroke="#000" stroke-width="1.1"/>
<line x1="241.50" y1="600.02" x2="305.00" y2="596.62" stroke="#000" stroke-width="1.1"/>
<line x1="241.50" y1="603.09" x2="305.00" y2="601.18" stroke="#000" stroke-width="1.1"/>
<line x1="377.10" y1="513.70" x2="377.10" y2="607.30" stroke="#1a1a1a" stroke-width="1.3"/>
<line x1="376.60" y1="606.80" x2="512.40" y2="606.80" stroke="#1a1a1a" stroke-width="1.3"/>
<line x1="373.90" y1="606.80" x2="377.10" y2="606.80" stroke="#1a1a1a" stroke-width="0.9"/>
<text x="372.05" y="609.05" font-size="6.4" text-anchor="end" fill="#2a2a2a" stroke="#2a2a2a" stroke-width="0.12" letter-spacing="0.25">0</text>
<line x1="373.90" y1="584.30" x2="377.10" y2="584.30" stroke="#1a1a1a" stroke-width="0.9"/>
<text x="372.05" y="586.55" font-size="6.4" text-anchor="end" fill="#2a2a2a" stroke="#2a2a2a" stroke-width="0.12" letter-spacing="0.25">10</text>
<line x1="373.90" y1="561.80" x2="377.10" y2="561.80" stroke="#1a1a1a" stroke-width="0.9"/>
<text x="372.05" y="564.05" font-size="6.4" text-anchor="end" fill="#2a2a2a" stroke="#2a2a2a" stroke-width="0.12" letter-spacing="0.25">20</text>
<line x1="373.90" y1="539.30" x2="377.10" y2="539.30" stroke="#1a1a1a" stroke-width="0.9"/>
<text x="372.05" y="541.55" font-size="6.4" text-anchor="end" fill="#2a2a2a" stroke="#2a2a2a" stroke-width="0.12" letter-spacing="0.25">30</text>
<line x1="373.90" y1="516.80" x2="377.10" y2="516.80" stroke="#1a1a1a" stroke-width="0.9"/>
<text x="372.05" y="519.05" font-size="6.4" text-anchor="end" fill="#2a2a2a" stroke="#2a2a2a" stroke-width="0.12" letter-spacing="0.25">40</text>
<line x1="411.20" y1="606.80" x2="411.20" y2="610.20" stroke="#1a1a1a" stroke-width="0.9"/>
<line x1="478.50" y1="606.80" x2="478.50" y2="610.20" stroke="#1a1a1a" stroke-width="0.9"/>
<text x="411.20" y="619.30" font-size="6.5" text-anchor="middle" fill="#222" textLength="23.0" lengthAdjust="spacingAndGlyphs">FL/FDC</text>
<text x="478.50" y="619.30" font-size="6.5" text-anchor="middle" fill="#222" textLength="45.2" lengthAdjust="spacingAndGlyphs">FL/FDC+IDELA</text>
<text x="358.00" y="562.70" font-size="7.0" text-anchor="middle" fill="#111" transform="rotate(-90 358.00 562.70)" stroke="#111" stroke-width="0.1" textLength="49.6" lengthAdjust="spacingAndGlyphs">% T<tspan font-size="4.6" dy="2.0">FH</tspan><tspan dy="-2.0"> </tspan>migration</text>
<text x="444.50" y="516.20" font-size="8.5" text-anchor="middle" fill="#111">**</text>
<rect x="409.35" y="526.20" width="3.7" height="3.7" fill="#fbe9ee" stroke="#b80d35" stroke-width="1.05"/>
<rect x="476.45" y="541.98" width="4.10" height="4.10" fill="#1e3b80"/>
<rect x="409.35" y="528.22" width="3.7" height="3.7" fill="#fbe9ee" stroke="#b80d35" stroke-width="1.05"/>
<rect x="476.45" y="568.30" width="4.10" height="4.10" fill="#1e3b80"/>
<rect x="409.35" y="535.87" width="3.7" height="3.7" fill="#fbe9ee" stroke="#b80d35" stroke-width="1.05"/>
<rect x="476.45" y="570.33" width="4.10" height="4.10" fill="#1e3b80"/>
<rect x="409.35" y="558.60" width="3.7" height="3.7" fill="#fbe9ee" stroke="#b80d35" stroke-width="1.05"/>
<rect x="476.45" y="566.05" width="4.10" height="4.10" fill="#1e3b80"/>
<rect x="409.35" y="564.22" width="3.7" height="3.7" fill="#fbe9ee" stroke="#b80d35" stroke-width="1.05"/>
<rect x="476.45" y="596.65" width="4.10" height="4.10" fill="#1e3b80"/>
<rect x="409.35" y="565.80" width="3.7" height="3.7" fill="#fbe9ee" stroke="#b80d35" stroke-width="1.05"/>
<rect x="476.45" y="572.80" width="4.10" height="4.10" fill="#1e3b80"/>
<rect x="409.35" y="567.60" width="3.7" height="3.7" fill="#fbe9ee" stroke="#b80d35" stroke-width="1.05"/>
<rect x="476.45" y="575.73" width="4.10" height="4.10" fill="#1e3b80"/>
<rect x="409.35" y="570.07" width="3.7" height="3.7" fill="#fbe9ee" stroke="#b80d35" stroke-width="1.05"/>
<rect x="476.45" y="567.62" width="4.10" height="4.10" fill="#1e3b80"/>
<rect x="409.35" y="572.32" width="3.7" height="3.7" fill="#fbe9ee" stroke="#b80d35" stroke-width="1.05"/>
<rect x="476.45" y="571.45" width="4.10" height="4.10" fill="#1e3b80"/>
<rect x="409.35" y="575.70" width="3.7" height="3.7" fill="#fbe9ee" stroke="#b80d35" stroke-width="1.05"/>
<rect x="476.45" y="563.80" width="4.10" height="4.10" fill="#1e3b80"/>
<rect x="409.35" y="582.00" width="3.7" height="3.7" fill="#fbe9ee" stroke="#b80d35" stroke-width="1.05"/>
<rect x="476.45" y="588.77" width="4.10" height="4.10" fill="#1e3b80"/>
<rect x="409.35" y="584.70" width="3.7" height="3.7" fill="#fbe9ee" stroke="#b80d35" stroke-width="1.05"/>
<rect x="476.45" y="591.02" width="4.10" height="4.10" fill="#1e3b80"/>
<rect x="409.35" y="594.15" width="3.7" height="3.7" fill="#fbe9ee" stroke="#b80d35" stroke-width="1.05"/>
<rect x="476.45" y="598.67" width="4.10" height="4.10" fill="#1e3b80"/>
<line x1="411.20" y1="528.05" x2="478.50" y2="544.02" stroke="#000" stroke-width="1.1"/>
<line x1="411.20" y1="530.07" x2="478.50" y2="570.35" stroke="#000" stroke-width="1.1"/>
<line x1="411.20" y1="537.72" x2="478.50" y2="572.38" stroke="#000" stroke-width="1.1"/>
<line x1="411.20" y1="560.45" x2="478.50" y2="568.10" stroke="#000" stroke-width="1.1"/>
<line x1="411.20" y1="566.07" x2="478.50" y2="598.70" stroke="#000" stroke-width="1.1"/>
<line x1="411.20" y1="567.65" x2="478.50" y2="574.85" stroke="#000" stroke-width="1.1"/>
<line x1="411.20" y1="569.45" x2="478.50" y2="577.77" stroke="#000" stroke-width="1.1"/>
<line x1="411.20" y1="571.92" x2="478.50" y2="569.67" stroke="#000" stroke-width="1.1"/>
<line x1="411.20" y1="574.17" x2="478.50" y2="573.50" stroke="#000" stroke-width="1.1"/>
<line x1="411.20" y1="577.55" x2="478.50" y2="565.85" stroke="#000" stroke-width="1.1"/>
<line x1="411.20" y1="583.85" x2="478.50" y2="590.82" stroke="#000" stroke-width="1.1"/>
<line x1="411.20" y1="586.55" x2="478.50" y2="593.07" stroke="#000" stroke-width="1.1"/>
<line x1="411.20" y1="596.00" x2="478.50" y2="600.72" stroke="#000" stroke-width="1.1"/>
<rect x="0" y="0" width="520" height="1.3" fill="#000"/><rect x="0" y="0" width="1.25" height="628" fill="#000"/><rect x="518.85" y="0" width="1.15" height="628" fill="#000"/><rect x="0" y="626.75" width="520" height="1.25" fill="#000"/>
</svg>
</body></html>
